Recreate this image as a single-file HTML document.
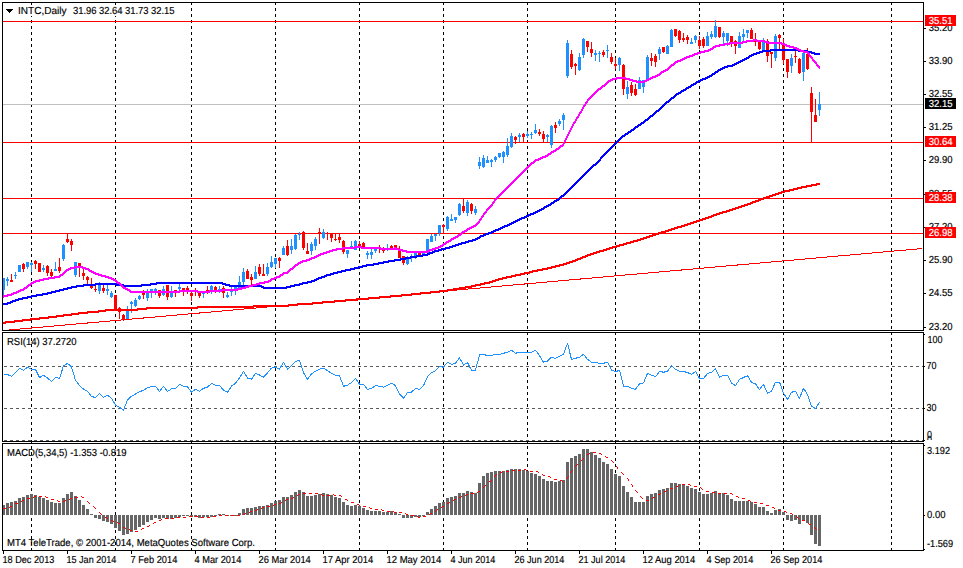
<!DOCTYPE html>
<html><head><meta charset="utf-8"><title>INTC Daily</title>
<style>html,body{margin:0;padding:0;background:#fff;overflow:hidden;}svg{display:block}</style></head>
<body><svg width="963" height="568" viewBox="0 0 963 568">
<rect width="963" height="568" fill="#fff"/>
<g shape-rendering="crispEdges">
<line x1="31.5" y1="2" x2="31.5" y2="551" stroke="#000" stroke-width="1" stroke-dasharray="3 3"/>
<line x1="115.5" y1="2" x2="115.5" y2="551" stroke="#000" stroke-width="1" stroke-dasharray="3 3"/>
<line x1="191.5" y1="2" x2="191.5" y2="551" stroke="#000" stroke-width="1" stroke-dasharray="3 3"/>
<line x1="275.5" y1="2" x2="275.5" y2="551" stroke="#000" stroke-width="1" stroke-dasharray="3 3"/>
<line x1="359.5" y1="2" x2="359.5" y2="551" stroke="#000" stroke-width="1" stroke-dasharray="3 3"/>
<line x1="443.5" y1="2" x2="443.5" y2="551" stroke="#000" stroke-width="1" stroke-dasharray="3 3"/>
<line x1="527.5" y1="2" x2="527.5" y2="551" stroke="#000" stroke-width="1" stroke-dasharray="3 3"/>
<line x1="615.5" y1="2" x2="615.5" y2="551" stroke="#000" stroke-width="1" stroke-dasharray="3 3"/>
<line x1="699.5" y1="2" x2="699.5" y2="551" stroke="#000" stroke-width="1" stroke-dasharray="3 3"/>
<line x1="783.5" y1="2" x2="783.5" y2="551" stroke="#000" stroke-width="1" stroke-dasharray="3 3"/>
<line x1="891.5" y1="2" x2="891.5" y2="551" stroke="#000" stroke-width="1" stroke-dasharray="3 3"/>
<rect x="0" y="331" width="963" height="1" fill="#fff"/>
<line x1="4" y1="366.5" x2="923" y2="366.5" stroke="#5a5a5a" stroke-width="1" stroke-dasharray="3 3"/>
<line x1="4" y1="408.5" x2="923" y2="408.5" stroke="#5a5a5a" stroke-width="1" stroke-dasharray="3 3"/>
<line x1="4" y1="440.5" x2="923" y2="440.5" stroke="#5a5a5a" stroke-width="1" stroke-dasharray="3 3"/>
<rect x="3" y="104" width="920" height="1" fill="#c0c0c0"/>
<rect x="3" y="21" width="920" height="1" fill="#ff0000"/>
<rect x="3" y="142" width="920" height="1" fill="#ff0000"/>
<rect x="3" y="198" width="920" height="1" fill="#ff0000"/>
<rect x="3" y="233" width="920" height="1" fill="#ff0000"/>
<g>
<rect x="3" y="278" width="1" height="17" fill="#1e90ff"/>
<rect x="3" y="278" width="2" height="12" fill="#1e90ff"/>
<rect x="7" y="277" width="1" height="9" fill="#1e90ff"/>
<rect x="6" y="279" width="3" height="2" fill="#1e90ff"/>
<rect x="11" y="274" width="1" height="8" fill="#ff0000"/>
<rect x="10" y="280" width="3" height="2" fill="#ff0000"/>
<rect x="15" y="272" width="1" height="7" fill="#1e90ff"/>
<rect x="14" y="275" width="3" height="1" fill="#1e90ff"/>
<rect x="19" y="265" width="1" height="7" fill="#1e90ff"/>
<rect x="18" y="265" width="3" height="7" fill="#1e90ff"/>
<rect x="23" y="263" width="1" height="9" fill="#ff0000"/>
<rect x="22" y="264" width="3" height="5" fill="#ff0000"/>
<rect x="27" y="262" width="1" height="7" fill="#1e90ff"/>
<rect x="26" y="262" width="3" height="5" fill="#1e90ff"/>
<rect x="31" y="262" width="1" height="10" fill="#1e90ff"/>
<rect x="30" y="263" width="3" height="2" fill="#1e90ff"/>
<rect x="35" y="260" width="1" height="9" fill="#ff0000"/>
<rect x="34" y="261" width="3" height="3" fill="#ff0000"/>
<rect x="39" y="263" width="1" height="9" fill="#ff0000"/>
<rect x="38" y="263" width="3" height="9" fill="#ff0000"/>
<rect x="43" y="265" width="1" height="7" fill="#1e90ff"/>
<rect x="42" y="268" width="3" height="2" fill="#1e90ff"/>
<rect x="47" y="265" width="1" height="11" fill="#ff0000"/>
<rect x="46" y="266" width="3" height="7" fill="#ff0000"/>
<rect x="51" y="269" width="1" height="8" fill="#ff0000"/>
<rect x="50" y="272" width="3" height="4" fill="#ff0000"/>
<rect x="55" y="262" width="1" height="9" fill="#1e90ff"/>
<rect x="54" y="269" width="3" height="2" fill="#1e90ff"/>
<rect x="59" y="258" width="1" height="15" fill="#ff0000"/>
<rect x="58" y="267" width="3" height="4" fill="#ff0000"/>
<rect x="63" y="244" width="1" height="17" fill="#1e90ff"/>
<rect x="62" y="245" width="3" height="14" fill="#1e90ff"/>
<rect x="67" y="234" width="1" height="9" fill="#ff0000"/>
<rect x="66" y="239" width="3" height="3" fill="#ff0000"/>
<rect x="71" y="239" width="1" height="12" fill="#ff0000"/>
<rect x="70" y="241" width="3" height="4" fill="#ff0000"/>
<rect x="75" y="262" width="1" height="15" fill="#1e90ff"/>
<rect x="74" y="262" width="3" height="13" fill="#1e90ff"/>
<rect x="79" y="263" width="1" height="14" fill="#ff0000"/>
<rect x="78" y="263" width="3" height="3" fill="#ff0000"/>
<rect x="83" y="269" width="1" height="11" fill="#ff0000"/>
<rect x="82" y="273" width="3" height="3" fill="#ff0000"/>
<rect x="87" y="276" width="1" height="9" fill="#ff0000"/>
<rect x="86" y="277" width="3" height="3" fill="#ff0000"/>
<rect x="91" y="278" width="1" height="11" fill="#ff0000"/>
<rect x="90" y="286" width="3" height="2" fill="#ff0000"/>
<rect x="95" y="283" width="1" height="9" fill="#ff0000"/>
<rect x="94" y="289" width="3" height="1" fill="#ff0000"/>
<rect x="99" y="282" width="1" height="12" fill="#1e90ff"/>
<rect x="98" y="283" width="3" height="8" fill="#1e90ff"/>
<rect x="103" y="285" width="1" height="8" fill="#ff0000"/>
<rect x="102" y="288" width="3" height="3" fill="#ff0000"/>
<rect x="107" y="285" width="1" height="10" fill="#1e90ff"/>
<rect x="106" y="289" width="3" height="2" fill="#1e90ff"/>
<rect x="111" y="291" width="1" height="7" fill="#1e90ff"/>
<rect x="110" y="293" width="3" height="4" fill="#1e90ff"/>
<rect x="115" y="295" width="1" height="16" fill="#ff0000"/>
<rect x="114" y="295" width="3" height="14" fill="#ff0000"/>
<rect x="119" y="307" width="1" height="12" fill="#ff0000"/>
<rect x="118" y="308" width="3" height="4" fill="#ff0000"/>
<rect x="123" y="314" width="1" height="7" fill="#ff0000"/>
<rect x="122" y="315" width="3" height="4" fill="#ff0000"/>
<rect x="127" y="306" width="1" height="13" fill="#1e90ff"/>
<rect x="126" y="309" width="3" height="10" fill="#1e90ff"/>
<rect x="131" y="301" width="1" height="12" fill="#1e90ff"/>
<rect x="130" y="302" width="3" height="2" fill="#1e90ff"/>
<rect x="135" y="298" width="1" height="9" fill="#1e90ff"/>
<rect x="134" y="300" width="3" height="6" fill="#1e90ff"/>
<rect x="139" y="295" width="1" height="5" fill="#1e90ff"/>
<rect x="138" y="296" width="3" height="3" fill="#1e90ff"/>
<rect x="143" y="290" width="1" height="9" fill="#ff0000"/>
<rect x="142" y="293" width="3" height="2" fill="#ff0000"/>
<rect x="147" y="289" width="1" height="12" fill="#1e90ff"/>
<rect x="146" y="291" width="3" height="7" fill="#1e90ff"/>
<rect x="151" y="289" width="1" height="9" fill="#1e90ff"/>
<rect x="150" y="289" width="3" height="4" fill="#1e90ff"/>
<rect x="155" y="288" width="1" height="7" fill="#1e90ff"/>
<rect x="154" y="289" width="3" height="2" fill="#1e90ff"/>
<rect x="159" y="290" width="1" height="8" fill="#ff0000"/>
<rect x="158" y="290" width="3" height="6" fill="#ff0000"/>
<rect x="163" y="286" width="1" height="10" fill="#1e90ff"/>
<rect x="162" y="289" width="3" height="6" fill="#1e90ff"/>
<rect x="167" y="285" width="1" height="15" fill="#ff0000"/>
<rect x="166" y="285" width="3" height="12" fill="#ff0000"/>
<rect x="171" y="286" width="1" height="12" fill="#1e90ff"/>
<rect x="170" y="292" width="3" height="5" fill="#1e90ff"/>
<rect x="175" y="290" width="1" height="7" fill="#ff0000"/>
<rect x="174" y="290" width="3" height="2" fill="#ff0000"/>
<rect x="179" y="284" width="1" height="7" fill="#1e90ff"/>
<rect x="178" y="287" width="3" height="2" fill="#1e90ff"/>
<rect x="183" y="288" width="1" height="8" fill="#ff0000"/>
<rect x="182" y="288" width="3" height="3" fill="#ff0000"/>
<rect x="187" y="286" width="1" height="8" fill="#ff0000"/>
<rect x="186" y="288" width="3" height="3" fill="#ff0000"/>
<rect x="191" y="291" width="1" height="10" fill="#ff0000"/>
<rect x="190" y="293" width="3" height="3" fill="#ff0000"/>
<rect x="195" y="288" width="1" height="8" fill="#ff0000"/>
<rect x="194" y="291" width="3" height="1" fill="#ff0000"/>
<rect x="199" y="291" width="1" height="7" fill="#ff0000"/>
<rect x="198" y="291" width="3" height="5" fill="#ff0000"/>
<rect x="203" y="292" width="1" height="6" fill="#1e90ff"/>
<rect x="202" y="293" width="3" height="1" fill="#1e90ff"/>
<rect x="207" y="286" width="1" height="8" fill="#ff0000"/>
<rect x="206" y="290" width="3" height="2" fill="#ff0000"/>
<rect x="211" y="285" width="1" height="9" fill="#1e90ff"/>
<rect x="210" y="286" width="3" height="6" fill="#1e90ff"/>
<rect x="215" y="286" width="1" height="7" fill="#ff0000"/>
<rect x="214" y="287" width="3" height="3" fill="#ff0000"/>
<rect x="219" y="286" width="1" height="7" fill="#1e90ff"/>
<rect x="218" y="289" width="3" height="1" fill="#1e90ff"/>
<rect x="223" y="286" width="1" height="12" fill="#ff0000"/>
<rect x="222" y="288" width="3" height="5" fill="#ff0000"/>
<rect x="227" y="292" width="1" height="6" fill="#1e90ff"/>
<rect x="226" y="295" width="3" height="2" fill="#1e90ff"/>
<rect x="231" y="287" width="1" height="9" fill="#1e90ff"/>
<rect x="230" y="291" width="3" height="1" fill="#1e90ff"/>
<rect x="235" y="287" width="1" height="8" fill="#1e90ff"/>
<rect x="234" y="287" width="3" height="3" fill="#1e90ff"/>
<rect x="239" y="276" width="1" height="13" fill="#1e90ff"/>
<rect x="238" y="282" width="3" height="7" fill="#1e90ff"/>
<rect x="243" y="268" width="1" height="18" fill="#1e90ff"/>
<rect x="242" y="272" width="3" height="10" fill="#1e90ff"/>
<rect x="247" y="269" width="1" height="10" fill="#ff0000"/>
<rect x="246" y="271" width="3" height="8" fill="#ff0000"/>
<rect x="251" y="274" width="1" height="11" fill="#ff0000"/>
<rect x="250" y="277" width="3" height="3" fill="#ff0000"/>
<rect x="255" y="266" width="1" height="13" fill="#1e90ff"/>
<rect x="254" y="272" width="3" height="7" fill="#1e90ff"/>
<rect x="259" y="264" width="1" height="12" fill="#ff0000"/>
<rect x="258" y="267" width="3" height="7" fill="#ff0000"/>
<rect x="263" y="264" width="1" height="12" fill="#ff0000"/>
<rect x="262" y="274" width="3" height="2" fill="#ff0000"/>
<rect x="267" y="263" width="1" height="13" fill="#1e90ff"/>
<rect x="266" y="267" width="3" height="7" fill="#1e90ff"/>
<rect x="271" y="256" width="1" height="12" fill="#1e90ff"/>
<rect x="270" y="262" width="3" height="5" fill="#1e90ff"/>
<rect x="275" y="258" width="1" height="10" fill="#1e90ff"/>
<rect x="274" y="258" width="3" height="6" fill="#1e90ff"/>
<rect x="279" y="257" width="1" height="11" fill="#ff0000"/>
<rect x="278" y="258" width="3" height="3" fill="#ff0000"/>
<rect x="283" y="246" width="1" height="9" fill="#1e90ff"/>
<rect x="282" y="248" width="3" height="7" fill="#1e90ff"/>
<rect x="287" y="240" width="1" height="16" fill="#ff0000"/>
<rect x="286" y="246" width="3" height="9" fill="#ff0000"/>
<rect x="291" y="239" width="1" height="15" fill="#1e90ff"/>
<rect x="290" y="246" width="3" height="4" fill="#1e90ff"/>
<rect x="295" y="234" width="1" height="16" fill="#1e90ff"/>
<rect x="294" y="235" width="3" height="14" fill="#1e90ff"/>
<rect x="299" y="232" width="1" height="8" fill="#1e90ff"/>
<rect x="298" y="234" width="3" height="1" fill="#1e90ff"/>
<rect x="303" y="231" width="1" height="19" fill="#ff0000"/>
<rect x="302" y="232" width="3" height="16" fill="#ff0000"/>
<rect x="307" y="243" width="1" height="11" fill="#ff0000"/>
<rect x="306" y="251" width="3" height="3" fill="#ff0000"/>
<rect x="311" y="242" width="1" height="13" fill="#1e90ff"/>
<rect x="310" y="244" width="3" height="7" fill="#1e90ff"/>
<rect x="315" y="237" width="1" height="13" fill="#1e90ff"/>
<rect x="314" y="239" width="3" height="7" fill="#1e90ff"/>
<rect x="319" y="228" width="1" height="16" fill="#ff0000"/>
<rect x="318" y="232" width="3" height="2" fill="#ff0000"/>
<rect x="323" y="229" width="1" height="10" fill="#1e90ff"/>
<rect x="322" y="232" width="3" height="6" fill="#1e90ff"/>
<rect x="327" y="232" width="1" height="8" fill="#ff0000"/>
<rect x="326" y="233" width="3" height="1" fill="#ff0000"/>
<rect x="331" y="233" width="1" height="9" fill="#ff0000"/>
<rect x="330" y="234" width="3" height="4" fill="#ff0000"/>
<rect x="335" y="233" width="1" height="8" fill="#ff0000"/>
<rect x="334" y="239" width="3" height="1" fill="#ff0000"/>
<rect x="339" y="234" width="1" height="9" fill="#ff0000"/>
<rect x="338" y="237" width="3" height="3" fill="#ff0000"/>
<rect x="343" y="240" width="1" height="14" fill="#ff0000"/>
<rect x="342" y="241" width="3" height="11" fill="#ff0000"/>
<rect x="347" y="250" width="1" height="8" fill="#1e90ff"/>
<rect x="346" y="250" width="3" height="4" fill="#1e90ff"/>
<rect x="351" y="241" width="1" height="8" fill="#1e90ff"/>
<rect x="350" y="246" width="3" height="3" fill="#1e90ff"/>
<rect x="355" y="240" width="1" height="10" fill="#1e90ff"/>
<rect x="354" y="241" width="3" height="9" fill="#1e90ff"/>
<rect x="359" y="241" width="1" height="7" fill="#ff0000"/>
<rect x="358" y="244" width="3" height="3" fill="#ff0000"/>
<rect x="363" y="242" width="1" height="7" fill="#ff0000"/>
<rect x="362" y="243" width="3" height="4" fill="#ff0000"/>
<rect x="367" y="251" width="1" height="8" fill="#1e90ff"/>
<rect x="366" y="253" width="3" height="2" fill="#1e90ff"/>
<rect x="371" y="249" width="1" height="10" fill="#1e90ff"/>
<rect x="370" y="252" width="3" height="3" fill="#1e90ff"/>
<rect x="375" y="248" width="1" height="5" fill="#1e90ff"/>
<rect x="374" y="249" width="3" height="2" fill="#1e90ff"/>
<rect x="379" y="245" width="1" height="8" fill="#ff0000"/>
<rect x="378" y="248" width="3" height="1" fill="#ff0000"/>
<rect x="383" y="247" width="1" height="6" fill="#ff0000"/>
<rect x="382" y="249" width="3" height="2" fill="#ff0000"/>
<rect x="387" y="244" width="1" height="7" fill="#1e90ff"/>
<rect x="386" y="248" width="3" height="1" fill="#1e90ff"/>
<rect x="391" y="245" width="1" height="4" fill="#ff0000"/>
<rect x="390" y="246" width="3" height="2" fill="#ff0000"/>
<rect x="395" y="245" width="1" height="5" fill="#ff0000"/>
<rect x="394" y="245" width="3" height="4" fill="#ff0000"/>
<rect x="399" y="246" width="1" height="12" fill="#ff0000"/>
<rect x="398" y="250" width="3" height="8" fill="#ff0000"/>
<rect x="403" y="256" width="1" height="9" fill="#ff0000"/>
<rect x="402" y="256" width="3" height="7" fill="#ff0000"/>
<rect x="407" y="256" width="1" height="9" fill="#1e90ff"/>
<rect x="406" y="258" width="3" height="6" fill="#1e90ff"/>
<rect x="411" y="254" width="1" height="8" fill="#1e90ff"/>
<rect x="410" y="257" width="3" height="1" fill="#1e90ff"/>
<rect x="415" y="253" width="1" height="6" fill="#1e90ff"/>
<rect x="414" y="253" width="3" height="3" fill="#1e90ff"/>
<rect x="419" y="252" width="1" height="3" fill="#ff0000"/>
<rect x="418" y="253" width="3" height="2" fill="#ff0000"/>
<rect x="423" y="252" width="1" height="2" fill="#1e90ff"/>
<rect x="422" y="253" width="3" height="1" fill="#1e90ff"/>
<rect x="427" y="239" width="1" height="14" fill="#1e90ff"/>
<rect x="426" y="239" width="3" height="14" fill="#1e90ff"/>
<rect x="431" y="234" width="1" height="8" fill="#1e90ff"/>
<rect x="430" y="236" width="3" height="6" fill="#1e90ff"/>
<rect x="435" y="234" width="1" height="7" fill="#1e90ff"/>
<rect x="434" y="234" width="3" height="2" fill="#1e90ff"/>
<rect x="439" y="225" width="1" height="11" fill="#1e90ff"/>
<rect x="438" y="225" width="3" height="8" fill="#1e90ff"/>
<rect x="443" y="224" width="1" height="9" fill="#ff0000"/>
<rect x="442" y="225" width="3" height="2" fill="#ff0000"/>
<rect x="447" y="216" width="1" height="15" fill="#1e90ff"/>
<rect x="446" y="217" width="3" height="12" fill="#1e90ff"/>
<rect x="451" y="214" width="1" height="7" fill="#1e90ff"/>
<rect x="450" y="219" width="3" height="2" fill="#1e90ff"/>
<rect x="455" y="217" width="1" height="6" fill="#1e90ff"/>
<rect x="454" y="217" width="3" height="3" fill="#1e90ff"/>
<rect x="459" y="203" width="1" height="13" fill="#1e90ff"/>
<rect x="458" y="204" width="3" height="11" fill="#1e90ff"/>
<rect x="463" y="198" width="1" height="15" fill="#ff0000"/>
<rect x="462" y="206" width="3" height="5" fill="#ff0000"/>
<rect x="467" y="200" width="1" height="16" fill="#1e90ff"/>
<rect x="466" y="202" width="3" height="11" fill="#1e90ff"/>
<rect x="471" y="203" width="1" height="11" fill="#ff0000"/>
<rect x="470" y="204" width="3" height="7" fill="#ff0000"/>
<rect x="475" y="206" width="1" height="9" fill="#1e90ff"/>
<rect x="474" y="209" width="3" height="4" fill="#1e90ff"/>
<rect x="479" y="157" width="1" height="12" fill="#1e90ff"/>
<rect x="478" y="162" width="3" height="4" fill="#1e90ff"/>
<rect x="483" y="155" width="1" height="13" fill="#1e90ff"/>
<rect x="482" y="158" width="3" height="9" fill="#1e90ff"/>
<rect x="487" y="156" width="1" height="7" fill="#1e90ff"/>
<rect x="486" y="160" width="3" height="3" fill="#1e90ff"/>
<rect x="491" y="159" width="1" height="8" fill="#1e90ff"/>
<rect x="490" y="160" width="3" height="2" fill="#1e90ff"/>
<rect x="495" y="156" width="1" height="6" fill="#1e90ff"/>
<rect x="494" y="157" width="3" height="3" fill="#1e90ff"/>
<rect x="499" y="153" width="1" height="5" fill="#1e90ff"/>
<rect x="498" y="153" width="3" height="4" fill="#1e90ff"/>
<rect x="503" y="151" width="1" height="12" fill="#1e90ff"/>
<rect x="502" y="152" width="3" height="5" fill="#1e90ff"/>
<rect x="507" y="138" width="1" height="19" fill="#1e90ff"/>
<rect x="506" y="146" width="3" height="9" fill="#1e90ff"/>
<rect x="511" y="133" width="1" height="15" fill="#1e90ff"/>
<rect x="510" y="136" width="3" height="11" fill="#1e90ff"/>
<rect x="515" y="136" width="1" height="8" fill="#ff0000"/>
<rect x="514" y="137" width="3" height="3" fill="#ff0000"/>
<rect x="519" y="133" width="1" height="9" fill="#1e90ff"/>
<rect x="518" y="135" width="3" height="2" fill="#1e90ff"/>
<rect x="523" y="133" width="1" height="9" fill="#ff0000"/>
<rect x="522" y="134" width="3" height="3" fill="#ff0000"/>
<rect x="527" y="131" width="1" height="7" fill="#1e90ff"/>
<rect x="526" y="134" width="3" height="2" fill="#1e90ff"/>
<rect x="531" y="132" width="1" height="7" fill="#1e90ff"/>
<rect x="530" y="134" width="3" height="1" fill="#1e90ff"/>
<rect x="535" y="124" width="1" height="10" fill="#1e90ff"/>
<rect x="534" y="130" width="3" height="3" fill="#1e90ff"/>
<rect x="539" y="129" width="1" height="7" fill="#ff0000"/>
<rect x="538" y="132" width="3" height="2" fill="#ff0000"/>
<rect x="543" y="131" width="1" height="11" fill="#ff0000"/>
<rect x="542" y="134" width="3" height="5" fill="#ff0000"/>
<rect x="547" y="134" width="1" height="8" fill="#1e90ff"/>
<rect x="546" y="135" width="3" height="2" fill="#1e90ff"/>
<rect x="551" y="125" width="1" height="23" fill="#1e90ff"/>
<rect x="550" y="126" width="3" height="19" fill="#1e90ff"/>
<rect x="555" y="122" width="1" height="11" fill="#ff0000"/>
<rect x="554" y="125" width="3" height="3" fill="#ff0000"/>
<rect x="559" y="119" width="1" height="7" fill="#1e90ff"/>
<rect x="558" y="121" width="3" height="3" fill="#1e90ff"/>
<rect x="563" y="113" width="1" height="17" fill="#1e90ff"/>
<rect x="562" y="115" width="3" height="5" fill="#1e90ff"/>
<rect x="567" y="40" width="1" height="38" fill="#1e90ff"/>
<rect x="566" y="43" width="3" height="33" fill="#1e90ff"/>
<rect x="571" y="50" width="1" height="19" fill="#ff0000"/>
<rect x="570" y="54" width="3" height="13" fill="#ff0000"/>
<rect x="575" y="63" width="1" height="12" fill="#ff0000"/>
<rect x="574" y="64" width="3" height="2" fill="#ff0000"/>
<rect x="579" y="53" width="1" height="18" fill="#1e90ff"/>
<rect x="578" y="57" width="3" height="13" fill="#1e90ff"/>
<rect x="583" y="38" width="1" height="20" fill="#1e90ff"/>
<rect x="582" y="39" width="3" height="16" fill="#1e90ff"/>
<rect x="587" y="41" width="1" height="11" fill="#ff0000"/>
<rect x="586" y="41" width="3" height="6" fill="#ff0000"/>
<rect x="591" y="42" width="1" height="15" fill="#ff0000"/>
<rect x="590" y="49" width="3" height="4" fill="#ff0000"/>
<rect x="595" y="50" width="1" height="11" fill="#1e90ff"/>
<rect x="594" y="53" width="3" height="2" fill="#1e90ff"/>
<rect x="599" y="51" width="1" height="11" fill="#1e90ff"/>
<rect x="598" y="53" width="3" height="1" fill="#1e90ff"/>
<rect x="603" y="50" width="1" height="7" fill="#ff0000"/>
<rect x="602" y="52" width="3" height="3" fill="#ff0000"/>
<rect x="607" y="45" width="1" height="13" fill="#1e90ff"/>
<rect x="606" y="50" width="3" height="1" fill="#1e90ff"/>
<rect x="611" y="53" width="1" height="11" fill="#ff0000"/>
<rect x="610" y="57" width="3" height="5" fill="#ff0000"/>
<rect x="615" y="58" width="1" height="11" fill="#ff0000"/>
<rect x="614" y="64" width="3" height="2" fill="#ff0000"/>
<rect x="619" y="57" width="1" height="14" fill="#1e90ff"/>
<rect x="618" y="58" width="3" height="7" fill="#1e90ff"/>
<rect x="623" y="64" width="1" height="31" fill="#ff0000"/>
<rect x="622" y="65" width="3" height="24" fill="#ff0000"/>
<rect x="627" y="81" width="1" height="18" fill="#1e90ff"/>
<rect x="626" y="87" width="3" height="7" fill="#1e90ff"/>
<rect x="631" y="82" width="1" height="14" fill="#ff0000"/>
<rect x="630" y="85" width="3" height="8" fill="#ff0000"/>
<rect x="635" y="84" width="1" height="12" fill="#ff0000"/>
<rect x="634" y="89" width="3" height="6" fill="#ff0000"/>
<rect x="639" y="77" width="1" height="12" fill="#1e90ff"/>
<rect x="638" y="80" width="3" height="9" fill="#1e90ff"/>
<rect x="643" y="80" width="1" height="13" fill="#1e90ff"/>
<rect x="642" y="80" width="3" height="7" fill="#1e90ff"/>
<rect x="647" y="55" width="1" height="24" fill="#1e90ff"/>
<rect x="646" y="57" width="3" height="22" fill="#1e90ff"/>
<rect x="651" y="53" width="1" height="13" fill="#ff0000"/>
<rect x="650" y="58" width="3" height="3" fill="#ff0000"/>
<rect x="655" y="54" width="1" height="13" fill="#ff0000"/>
<rect x="654" y="56" width="3" height="6" fill="#ff0000"/>
<rect x="659" y="47" width="1" height="13" fill="#1e90ff"/>
<rect x="658" y="49" width="3" height="5" fill="#1e90ff"/>
<rect x="663" y="47" width="1" height="6" fill="#ff0000"/>
<rect x="662" y="47" width="3" height="5" fill="#ff0000"/>
<rect x="667" y="45" width="1" height="9" fill="#1e90ff"/>
<rect x="666" y="46" width="3" height="8" fill="#1e90ff"/>
<rect x="671" y="29" width="1" height="18" fill="#1e90ff"/>
<rect x="670" y="30" width="3" height="17" fill="#1e90ff"/>
<rect x="675" y="29" width="1" height="8" fill="#ff0000"/>
<rect x="674" y="29" width="3" height="7" fill="#ff0000"/>
<rect x="679" y="30" width="1" height="13" fill="#ff0000"/>
<rect x="678" y="31" width="3" height="9" fill="#ff0000"/>
<rect x="683" y="33" width="1" height="9" fill="#ff0000"/>
<rect x="682" y="38" width="3" height="2" fill="#ff0000"/>
<rect x="687" y="35" width="1" height="9" fill="#ff0000"/>
<rect x="686" y="37" width="3" height="3" fill="#ff0000"/>
<rect x="691" y="38" width="1" height="6" fill="#1e90ff"/>
<rect x="690" y="42" width="3" height="2" fill="#1e90ff"/>
<rect x="695" y="35" width="1" height="8" fill="#1e90ff"/>
<rect x="694" y="36" width="3" height="4" fill="#1e90ff"/>
<rect x="699" y="36" width="1" height="13" fill="#ff0000"/>
<rect x="698" y="40" width="3" height="6" fill="#ff0000"/>
<rect x="703" y="37" width="1" height="11" fill="#ff0000"/>
<rect x="702" y="39" width="3" height="7" fill="#ff0000"/>
<rect x="707" y="32" width="1" height="14" fill="#1e90ff"/>
<rect x="706" y="36" width="3" height="10" fill="#1e90ff"/>
<rect x="711" y="31" width="1" height="8" fill="#1e90ff"/>
<rect x="710" y="34" width="3" height="3" fill="#1e90ff"/>
<rect x="715" y="20" width="1" height="18" fill="#1e90ff"/>
<rect x="714" y="26" width="3" height="11" fill="#1e90ff"/>
<rect x="719" y="27" width="1" height="11" fill="#ff0000"/>
<rect x="718" y="27" width="3" height="10" fill="#ff0000"/>
<rect x="723" y="31" width="1" height="13" fill="#1e90ff"/>
<rect x="722" y="33" width="3" height="4" fill="#1e90ff"/>
<rect x="727" y="33" width="1" height="13" fill="#1e90ff"/>
<rect x="726" y="33" width="3" height="8" fill="#1e90ff"/>
<rect x="731" y="36" width="1" height="11" fill="#ff0000"/>
<rect x="730" y="36" width="3" height="8" fill="#ff0000"/>
<rect x="735" y="40" width="1" height="14" fill="#ff0000"/>
<rect x="734" y="41" width="3" height="5" fill="#ff0000"/>
<rect x="739" y="32" width="1" height="16" fill="#1e90ff"/>
<rect x="738" y="36" width="3" height="12" fill="#1e90ff"/>
<rect x="743" y="29" width="1" height="12" fill="#1e90ff"/>
<rect x="742" y="34" width="3" height="3" fill="#1e90ff"/>
<rect x="747" y="30" width="1" height="8" fill="#1e90ff"/>
<rect x="746" y="30" width="3" height="3" fill="#1e90ff"/>
<rect x="751" y="28" width="1" height="11" fill="#ff0000"/>
<rect x="750" y="30" width="3" height="9" fill="#ff0000"/>
<rect x="755" y="33" width="1" height="13" fill="#ff0000"/>
<rect x="754" y="39" width="3" height="3" fill="#ff0000"/>
<rect x="759" y="42" width="1" height="8" fill="#ff0000"/>
<rect x="758" y="42" width="3" height="7" fill="#ff0000"/>
<rect x="763" y="38" width="1" height="13" fill="#1e90ff"/>
<rect x="762" y="40" width="3" height="11" fill="#1e90ff"/>
<rect x="767" y="39" width="1" height="23" fill="#ff0000"/>
<rect x="766" y="41" width="3" height="15" fill="#ff0000"/>
<rect x="771" y="52" width="1" height="16" fill="#ff0000"/>
<rect x="770" y="52" width="3" height="2" fill="#ff0000"/>
<rect x="775" y="34" width="1" height="27" fill="#1e90ff"/>
<rect x="774" y="36" width="3" height="22" fill="#1e90ff"/>
<rect x="779" y="34" width="1" height="15" fill="#ff0000"/>
<rect x="778" y="35" width="3" height="3" fill="#ff0000"/>
<rect x="783" y="39" width="1" height="25" fill="#ff0000"/>
<rect x="782" y="45" width="3" height="15" fill="#ff0000"/>
<rect x="787" y="59" width="1" height="19" fill="#ff0000"/>
<rect x="786" y="59" width="3" height="13" fill="#ff0000"/>
<rect x="791" y="54" width="1" height="19" fill="#1e90ff"/>
<rect x="790" y="58" width="3" height="8" fill="#1e90ff"/>
<rect x="795" y="51" width="1" height="12" fill="#ff0000"/>
<rect x="794" y="56" width="3" height="1" fill="#ff0000"/>
<rect x="799" y="58" width="1" height="16" fill="#ff0000"/>
<rect x="798" y="59" width="3" height="14" fill="#ff0000"/>
<rect x="803" y="53" width="1" height="28" fill="#1e90ff"/>
<rect x="802" y="53" width="3" height="19" fill="#1e90ff"/>
<rect x="807" y="48" width="1" height="22" fill="#ff0000"/>
<rect x="806" y="54" width="3" height="15" fill="#ff0000"/>
<rect x="811" y="87" width="1" height="55" fill="#ff0000"/>
<rect x="810" y="93" width="3" height="19" fill="#ff0000"/>
<rect x="815" y="99" width="1" height="23" fill="#ff0000"/>
<rect x="814" y="115" width="3" height="7" fill="#ff0000"/>
<rect x="819" y="92" width="1" height="24" fill="#1e90ff"/>
<rect x="818" y="104" width="3" height="6" fill="#1e90ff"/>
</g>
<clipPath id="cm"><rect x="3" y="3" width="920" height="327"/></clipPath>
<line x1="3.5" y1="330.5" x2="922.5" y2="248.5" stroke="#ff0000" stroke-width="1" clip-path="url(#cm)"/>
<path d="M3.5,322V324M4.5,322V324M5.5,321V324M6.5,321V323M7.5,321V323M8.5,321V323M9.5,321V323M10.5,321V323M11.5,321V323M12.5,321V323M13.5,321V323M14.5,320V323M15.5,320V322M16.5,320V322M17.5,320V322M18.5,320V322M19.5,320V322M20.5,320V322M21.5,320V322M22.5,319V322M23.5,319V321M24.5,319V321M25.5,319V321M26.5,319V321M27.5,319V321M28.5,319V321M29.5,319V321M30.5,318V321M31.5,318V320M32.5,318V320M33.5,318V320M34.5,318V320M35.5,318V320M36.5,318V320M37.5,318V320M38.5,318V320M39.5,317V320M40.5,317V319M41.5,317V319M42.5,317V319M43.5,317V319M44.5,317V319M45.5,317V319M46.5,317V319M47.5,317V319M48.5,316V319M49.5,316V318M50.5,316V318M51.5,316V318M52.5,316V318M53.5,316V318M54.5,316V318M55.5,316V318M56.5,315V318M57.5,315V317M58.5,315V317M59.5,315V317M60.5,315V317M61.5,315V317M62.5,315V317M63.5,314V317M64.5,314V316M65.5,314V316M66.5,314V316M67.5,314V316M68.5,314V316M69.5,314V316M70.5,314V316M71.5,313V316M72.5,313V315M73.5,313V315M74.5,313V315M75.5,313V315M76.5,313V315M77.5,313V315M78.5,312V315M79.5,312V314M80.5,312V314M81.5,312V314M82.5,312V314M83.5,312V314M84.5,312V314M85.5,312V314M86.5,312V314M87.5,311V314M88.5,311V313M89.5,311V313M90.5,311V313M91.5,311V313M92.5,311V313M93.5,311V313M94.5,311V313M95.5,311V313M96.5,311V313M97.5,311V313M98.5,310V313M99.5,310V312M100.5,310V312M101.5,310V312M102.5,310V312M103.5,310V312M104.5,310V312M105.5,309V312M106.5,309V311M107.5,309V311M108.5,309V311M109.5,309V311M110.5,309V311M111.5,309V311M112.5,309V311M113.5,309V311M114.5,309V311M115.5,309V311M116.5,309V311M117.5,309V311M118.5,309V311M119.5,309V311M120.5,309V311M121.5,309V311M122.5,309V311M123.5,309V311M124.5,309V311M125.5,309V311M126.5,309V311M127.5,309V311M128.5,309V311M129.5,309V311M130.5,309V311M131.5,309V311M132.5,309V311M133.5,309V311M134.5,309V311M135.5,309V311M136.5,309V311M137.5,308V311M138.5,308V310M139.5,308V310M140.5,308V310M141.5,308V310M142.5,308V310M143.5,308V310M144.5,308V310M145.5,308V310M146.5,307V310M147.5,307V309M148.5,307V309M149.5,307V309M150.5,307V309M151.5,307V309M152.5,307V309M153.5,307V309M154.5,307V309M155.5,307V309M156.5,307V309M157.5,307V309M158.5,307V309M159.5,307V309M160.5,307V309M161.5,307V309M162.5,307V309M163.5,307V309M164.5,307V309M165.5,307V309M166.5,307V309M167.5,307V309M168.5,307V309M169.5,307V309M170.5,307V309M171.5,307V309M172.5,307V309M173.5,307V309M174.5,307V309M175.5,307V309M176.5,307V309M177.5,307V309M178.5,307V309M179.5,307V309M180.5,307V309M181.5,307V309M182.5,307V309M183.5,307V309M184.5,307V309M185.5,307V309M186.5,307V309M187.5,307V309M188.5,307V309M189.5,307V309M190.5,307V309M191.5,307V309M192.5,307V309M193.5,307V309M194.5,307V309M195.5,307V309M196.5,307V309M197.5,306V309M198.5,306V308M199.5,306V308M200.5,306V308M201.5,306V308M202.5,306V308M203.5,306V308M204.5,306V308M205.5,306V308M206.5,306V308M207.5,306V308M208.5,306V308M209.5,306V308M210.5,306V308M211.5,306V308M212.5,306V308M213.5,306V308M214.5,306V308M215.5,306V308M216.5,306V308M217.5,306V308M218.5,306V308M219.5,306V308M220.5,306V308M221.5,306V308M222.5,306V308M223.5,306V308M224.5,306V308M225.5,306V308M226.5,306V308M227.5,306V308M228.5,306V308M229.5,306V308M230.5,306V308M231.5,306V308M232.5,306V308M233.5,306V308M234.5,306V308M235.5,306V308M236.5,306V308M237.5,306V308M238.5,306V308M239.5,306V308M240.5,306V308M241.5,306V308M242.5,306V308M243.5,306V308M244.5,306V308M245.5,306V308M246.5,306V308M247.5,306V308M248.5,306V308M249.5,306V308M250.5,306V308M251.5,306V308M252.5,306V308M253.5,305V308M254.5,305V307M255.5,305V307M256.5,305V307M257.5,305V307M258.5,305V307M259.5,305V307M260.5,305V307M261.5,305V307M262.5,305V307M263.5,305V307M264.5,305V307M265.5,305V307M266.5,305V307M267.5,305V307M268.5,305V307M269.5,305V307M270.5,305V307M271.5,305V307M272.5,305V307M273.5,305V307M274.5,305V307M275.5,305V307M276.5,305V307M277.5,305V307M278.5,305V307M279.5,305V307M280.5,305V307M281.5,305V307M282.5,305V307M283.5,305V307M284.5,305V307M285.5,305V307M286.5,305V307M287.5,305V307M288.5,304V307M289.5,304V306M290.5,304V306M291.5,304V306M292.5,304V306M293.5,304V306M294.5,304V306M295.5,304V306M296.5,304V306M297.5,303V306M298.5,303V305M299.5,303V305M300.5,303V305M301.5,303V305M302.5,303V305M303.5,303V305M304.5,303V305M305.5,303V305M306.5,303V305M307.5,303V305M308.5,303V305M309.5,303V305M310.5,303V305M311.5,303V305M312.5,302V305M313.5,302V304M314.5,302V304M315.5,302V304M316.5,302V304M317.5,302V304M318.5,302V304M319.5,302V304M320.5,302V304M321.5,302V304M322.5,301V304M323.5,301V303M324.5,301V303M325.5,301V303M326.5,301V303M327.5,301V303M328.5,301V303M329.5,301V303M330.5,301V303M331.5,301V303M332.5,301V303M333.5,301V303M334.5,300V303M335.5,300V302M336.5,300V302M337.5,300V302M338.5,300V302M339.5,300V302M340.5,300V302M341.5,300V302M342.5,300V302M343.5,300V302M344.5,300V302M345.5,299V302M346.5,299V301M347.5,299V301M348.5,299V301M349.5,299V301M350.5,299V301M351.5,299V301M352.5,299V301M353.5,299V301M354.5,299V301M355.5,299V301M356.5,299V301M357.5,298V301M358.5,298V300M359.5,298V300M360.5,298V300M361.5,298V300M362.5,298V300M363.5,298V300M364.5,298V300M365.5,298V300M366.5,298V300M367.5,298V300M368.5,297V300M369.5,297V299M370.5,297V299M371.5,297V299M372.5,297V299M373.5,297V299M374.5,297V299M375.5,297V299M376.5,297V299M377.5,297V299M378.5,297V299M379.5,296V299M380.5,296V298M381.5,296V298M382.5,296V298M383.5,296V298M384.5,296V298M385.5,296V298M386.5,296V298M387.5,296V298M388.5,296V298M389.5,296V298M390.5,295V298M391.5,295V297M392.5,295V297M393.5,295V297M394.5,295V297M395.5,295V297M396.5,295V297M397.5,295V297M398.5,295V297M399.5,295V297M400.5,295V297M401.5,294V297M402.5,294V296M403.5,294V296M404.5,294V296M405.5,294V296M406.5,294V296M407.5,294V296M408.5,294V296M409.5,294V296M410.5,294V296M411.5,293V296M412.5,293V295M413.5,293V295M414.5,293V295M415.5,293V295M416.5,293V295M417.5,293V295M418.5,293V295M419.5,293V295M420.5,292V295M421.5,292V294M422.5,292V294M423.5,292V294M424.5,292V294M425.5,292V294M426.5,292V294M427.5,292V294M428.5,292V294M429.5,292V294M430.5,291V294M431.5,291V293M432.5,291V293M433.5,291V293M434.5,291V293M435.5,291V293M436.5,291V293M437.5,291V293M438.5,291V293M439.5,290V293M440.5,290V292M441.5,290V292M442.5,290V292M443.5,290V292M444.5,290V292M445.5,290V292M446.5,290V292M447.5,289V292M448.5,289V291M449.5,289V291M450.5,289V291M451.5,289V291M452.5,289V291M453.5,288V291M454.5,288V290M455.5,288V290M456.5,288V290M457.5,288V290M458.5,288V290M459.5,287V290M460.5,287V289M461.5,287V289M462.5,287V289M463.5,287V289M464.5,287V289M465.5,286V289M466.5,286V288M467.5,286V288M468.5,286V288M469.5,286V288M470.5,286V288M471.5,285V288M472.5,285V287M473.5,285V287M474.5,285V287M475.5,284V287M476.5,284V286M477.5,284V286M478.5,284V286M479.5,284V286M480.5,283V286M481.5,283V285M482.5,283V285M483.5,283V285M484.5,282V285M485.5,282V284M486.5,282V284M487.5,282V284M488.5,282V284M489.5,281V284M490.5,281V283M491.5,281V283M492.5,280V283M493.5,280V282M494.5,280V282M495.5,279V282M496.5,279V281M497.5,279V281M498.5,278V281M499.5,278V280M500.5,278V280M501.5,278V280M502.5,277V280M503.5,277V279M504.5,277V279M505.5,277V279M506.5,276V279M507.5,276V278M508.5,276V278M509.5,276V278M510.5,276V278M511.5,275V278M512.5,275V277M513.5,275V277M514.5,275V277M515.5,274V277M516.5,274V276M517.5,274V276M518.5,274V276M519.5,274V276M520.5,273V276M521.5,273V275M522.5,273V275M523.5,273V275M524.5,272V275M525.5,272V274M526.5,272V274M527.5,272V274M528.5,272V274M529.5,271V274M530.5,271V273M531.5,271V273M532.5,270V273M533.5,270V272M534.5,270V272M535.5,270V272M536.5,270V272M537.5,269V272M538.5,269V271M539.5,269V271M540.5,269V271M541.5,269V271M542.5,268V271M543.5,268V270M544.5,268V270M545.5,268V270M546.5,268V270M547.5,267V270M548.5,267V269M549.5,267V269M550.5,267V269M551.5,266V269M552.5,266V268M553.5,266V268M554.5,266V268M555.5,265V268M556.5,265V267M557.5,265V267M558.5,265V267M559.5,264V267M560.5,264V266M561.5,264V266M562.5,264V266M563.5,263V266M564.5,263V265M565.5,263V265M566.5,262V265M567.5,262V264M568.5,262V264M569.5,261V264M570.5,261V263M571.5,261V263M572.5,260V263M573.5,260V262M574.5,260V262M575.5,259V262M576.5,259V261M577.5,258V261M578.5,258V260M579.5,258V260M580.5,257V260M581.5,257V259M582.5,256V259M583.5,256V258M584.5,256V258M585.5,255V258M586.5,255V257M587.5,254V257M588.5,254V256M589.5,254V256M590.5,253V256M591.5,253V255M592.5,253V255M593.5,252V255M594.5,252V254M595.5,252V254M596.5,251V254M597.5,251V253M598.5,251V253M599.5,250V253M600.5,250V252M601.5,250V252M602.5,250V252M603.5,249V252M604.5,249V251M605.5,249V251M606.5,248V251M607.5,248V250M608.5,248V250M609.5,247V250M610.5,247V249M611.5,247V249M612.5,246V249M613.5,246V248M614.5,246V248M615.5,246V248M616.5,245V248M617.5,245V247M618.5,245V247M619.5,244V247M620.5,244V246M621.5,244V246M622.5,244V246M623.5,243V246M624.5,243V245M625.5,243V245M626.5,242V245M627.5,242V244M628.5,242V244M629.5,242V244M630.5,241V244M631.5,241V243M632.5,241V243M633.5,240V243M634.5,240V242M635.5,240V242M636.5,240V242M637.5,239V242M638.5,239V241M639.5,239V241M640.5,238V241M641.5,238V240M642.5,238V240M643.5,237V240M644.5,237V239M645.5,237V239M646.5,236V239M647.5,236V238M648.5,236V238M649.5,235V238M650.5,235V237M651.5,235V237M652.5,234V237M653.5,234V236M654.5,234V236M655.5,233V236M656.5,233V235M657.5,233V235M658.5,232V235M659.5,232V234M660.5,232V234M661.5,231V234M662.5,231V233M663.5,231V233M664.5,231V233M665.5,230V233M666.5,230V232M667.5,230V232M668.5,229V232M669.5,229V231M670.5,229V231M671.5,228V231M672.5,228V230M673.5,228V230M674.5,227V230M675.5,227V229M676.5,227V229M677.5,226V229M678.5,226V228M679.5,226V228M680.5,226V228M681.5,225V228M682.5,225V227M683.5,225V227M684.5,224V227M685.5,224V226M686.5,224V226M687.5,223V226M688.5,223V225M689.5,223V225M690.5,222V225M691.5,222V224M692.5,222V224M693.5,221V224M694.5,221V223M695.5,221V223M696.5,220V223M697.5,220V222M698.5,220V222M699.5,219V222M700.5,219V221M701.5,219V221M702.5,218V221M703.5,218V220M704.5,218V220M705.5,217V220M706.5,217V219M707.5,217V219M708.5,216V219M709.5,216V218M710.5,216V218M711.5,215V218M712.5,215V217M713.5,214V217M714.5,214V216M715.5,214V216M716.5,213V216M717.5,213V215M718.5,213V215M719.5,212V215M720.5,212V214M721.5,212V214M722.5,211V214M723.5,211V213M724.5,211V213M725.5,211V213M726.5,210V213M727.5,210V212M728.5,210V212M729.5,209V212M730.5,209V211M731.5,209V211M732.5,208V211M733.5,208V210M734.5,208V210M735.5,207V210M736.5,207V209M737.5,207V209M738.5,206V209M739.5,206V208M740.5,206V208M741.5,205V208M742.5,205V207M743.5,205V207M744.5,204V207M745.5,204V206M746.5,204V206M747.5,203V206M748.5,203V205M749.5,203V205M750.5,202V205M751.5,202V204M752.5,201V204M753.5,201V203M754.5,201V203M755.5,200V203M756.5,200V202M757.5,200V202M758.5,199V202M759.5,199V201M760.5,198V201M761.5,198V200M762.5,198V200M763.5,197V200M764.5,197V199M765.5,197V199M766.5,196V199M767.5,196V198M768.5,196V198M769.5,195V198M770.5,195V197M771.5,195V197M772.5,194V197M773.5,194V196M774.5,194V196M775.5,193V196M776.5,193V195M777.5,193V195M778.5,192V195M779.5,192V194M780.5,192V194M781.5,191V194M782.5,191V193M783.5,191V193M784.5,190V193M785.5,190V192M786.5,190V192M787.5,190V192M788.5,190V192M789.5,189V192M790.5,189V191M791.5,189V191M792.5,189V191M793.5,188V191M794.5,188V190M795.5,188V190M796.5,188V190M797.5,187V190M798.5,187V189M799.5,187V189M800.5,187V189M801.5,186V189M802.5,186V188M803.5,186V188M804.5,186V188M805.5,186V188M806.5,185V188M807.5,185V187M808.5,185V187M809.5,185V187M810.5,185V187M811.5,184V187M812.5,184V186M813.5,184V186M814.5,184V186M815.5,184V186M816.5,183V186M817.5,183V185M818.5,183V185M819.5,183V185" fill="none" stroke="#ff0000" stroke-width="1"/>
<path d="M3.5,303V305M4.5,303V305M5.5,303V305M6.5,303V305M7.5,302V305M8.5,302V304M9.5,302V304M10.5,301V304M11.5,301V303M12.5,300V303M13.5,300V302M14.5,300V302M15.5,299V302M16.5,299V301M17.5,299V301M18.5,298V301M19.5,298V300M20.5,298V300M21.5,298V300M22.5,297V300M23.5,297V299M24.5,297V299M25.5,297V299M26.5,297V299M27.5,296V299M28.5,296V298M29.5,296V298M30.5,296V298M31.5,295V298M32.5,295V297M33.5,295V297M34.5,295V297M35.5,295V297M36.5,294V297M37.5,294V296M38.5,294V296M39.5,294V296M40.5,294V296M41.5,294V296M42.5,293V296M43.5,293V295M44.5,293V295M45.5,293V295M46.5,293V295M47.5,292V295M48.5,292V294M49.5,292V294M50.5,292V294M51.5,291V294M52.5,291V293M53.5,291V293M54.5,291V293M55.5,290V293M56.5,290V292M57.5,290V292M58.5,290V292M59.5,289V292M60.5,289V291M61.5,289V291M62.5,289V291M63.5,288V291M64.5,288V290M65.5,288V290M66.5,288V290M67.5,287V290M68.5,287V289M69.5,287V289M70.5,287V289M71.5,286V289M72.5,286V288M73.5,286V288M74.5,286V288M75.5,286V288M76.5,285V288M77.5,285V287M78.5,285V287M79.5,285V287M80.5,285V287M81.5,285V287M82.5,285V287M83.5,284V287M84.5,284V286M85.5,284V286M86.5,284V286M87.5,284V286M88.5,284V286M89.5,284V286M90.5,284V286M91.5,284V286M92.5,284V286M93.5,284V286M94.5,284V286M95.5,283V286M96.5,283V285M97.5,283V285M98.5,283V285M99.5,283V285M100.5,283V285M101.5,283V285M102.5,283V285M103.5,283V285M104.5,283V285M105.5,283V285M106.5,283V285M107.5,283V285M108.5,283V285M109.5,283V285M110.5,283V285M111.5,283V285M112.5,283V285M113.5,283V285M114.5,283V285M115.5,283V285M116.5,283V286M117.5,284V286M118.5,284V286M119.5,284V286M120.5,284V286M121.5,284V286M122.5,284V286M123.5,284V287M124.5,285V287M125.5,285V287M126.5,285V287M127.5,285V287M128.5,285V287M129.5,285V287M130.5,285V287M131.5,285V287M132.5,285V287M133.5,285V287M134.5,285V287M135.5,285V287M136.5,285V287M137.5,285V287M138.5,285V287M139.5,285V287M140.5,285V287M141.5,284V287M142.5,284V286M143.5,284V286M144.5,284V286M145.5,284V286M146.5,284V286M147.5,284V286M148.5,284V286M149.5,284V286M150.5,283V286M151.5,283V285M152.5,283V285M153.5,283V285M154.5,283V285M155.5,283V285M156.5,282V285M157.5,282V284M158.5,282V284M159.5,282V284M160.5,282V284M161.5,282V284M162.5,282V284M163.5,282V284M164.5,282V284M165.5,282V284M166.5,282V284M167.5,282V284M168.5,282V284M169.5,282V284M170.5,282V284M171.5,282V284M172.5,282V284M173.5,282V284M174.5,282V284M175.5,282V284M176.5,282V284M177.5,282V284M178.5,282V284M179.5,282V284M180.5,282V284M181.5,282V284M182.5,282V284M183.5,282V284M184.5,282V284M185.5,282V284M186.5,282V284M187.5,282V284M188.5,282V284M189.5,282V284M190.5,282V284M191.5,282V284M192.5,282V284M193.5,282V284M194.5,282V284M195.5,282V284M196.5,282V284M197.5,282V284M198.5,282V284M199.5,282V284M200.5,282V284M201.5,282V284M202.5,282V284M203.5,282V284M204.5,282V284M205.5,282V284M206.5,282V284M207.5,282V284M208.5,282V284M209.5,282V284M210.5,282V284M211.5,282V284M212.5,282V284M213.5,282V284M214.5,282V284M215.5,282V284M216.5,282V284M217.5,282V284M218.5,282V284M219.5,282V284M220.5,282V284M221.5,282V284M222.5,282V285M223.5,283V285M224.5,283V285M225.5,283V286M226.5,284V286M227.5,284V286M228.5,284V286M229.5,284V287M230.5,285V287M231.5,285V287M232.5,285V287M233.5,285V287M234.5,285V287M235.5,285V287M236.5,285V287M237.5,285V287M238.5,285V287M239.5,285V287M240.5,285V287M241.5,285V287M242.5,285V287M243.5,285V287M244.5,285V287M245.5,285V287M246.5,285V287M247.5,285V287M248.5,285V287M249.5,285V287M250.5,285V287M251.5,285V287M252.5,285V287M253.5,285V287M254.5,285V287M255.5,285V287M256.5,285V287M257.5,285V287M258.5,285V287M259.5,285V287M260.5,285V287M261.5,285V288M262.5,286V288M263.5,286V289M264.5,287V289M265.5,287V289M266.5,287V289M267.5,287V289M268.5,287V289M269.5,287V289M270.5,287V289M271.5,287V289M272.5,287V289M273.5,287V289M274.5,287V289M275.5,287V289M276.5,287V289M277.5,287V289M278.5,287V289M279.5,287V289M280.5,287V289M281.5,287V289M282.5,287V289M283.5,287V289M284.5,287V289M285.5,287V289M286.5,286V289M287.5,286V288M288.5,286V288M289.5,286V288M290.5,285V288M291.5,285V287M292.5,285V287M293.5,285V287M294.5,284V287M295.5,284V286M296.5,284V286M297.5,284V286M298.5,284V286M299.5,283V286M300.5,283V285M301.5,283V285M302.5,282V285M303.5,282V284M304.5,282V284M305.5,282V284M306.5,282V284M307.5,281V284M308.5,281V283M309.5,281V283M310.5,281V283M311.5,280V283M312.5,280V282M313.5,280V282M314.5,279V282M315.5,279V281M316.5,278V281M317.5,278V280M318.5,277V280M319.5,277V279M320.5,277V279M321.5,276V279M322.5,276V278M323.5,276V278M324.5,275V278M325.5,275V277M326.5,274V277M327.5,274V276M328.5,274V276M329.5,274V276M330.5,273V276M331.5,273V275M332.5,273V275M333.5,272V275M334.5,272V274M335.5,272V274M336.5,272V274M337.5,271V274M338.5,271V273M339.5,271V273M340.5,271V273M341.5,270V273M342.5,270V272M343.5,270V272M344.5,270V272M345.5,269V272M346.5,269V271M347.5,269V271M348.5,269V271M349.5,269V271M350.5,268V271M351.5,268V270M352.5,268V270M353.5,268V270M354.5,267V270M355.5,267V269M356.5,267V269M357.5,267V269M358.5,266V269M359.5,266V268M360.5,266V268M361.5,266V268M362.5,265V268M363.5,265V267M364.5,265V267M365.5,265V267M366.5,264V267M367.5,264V266M368.5,264V266M369.5,264V266M370.5,264V266M371.5,264V266M372.5,264V266M373.5,263V266M374.5,263V265M375.5,263V265M376.5,263V265M377.5,263V265M378.5,262V265M379.5,262V264M380.5,262V264M381.5,262V264M382.5,262V264M383.5,261V264M384.5,261V263M385.5,261V263M386.5,261V263M387.5,261V263M388.5,260V263M389.5,260V262M390.5,260V262M391.5,260V262M392.5,260V262M393.5,260V262M394.5,259V262M395.5,259V261M396.5,259V261M397.5,259V261M398.5,259V261M399.5,259V261M400.5,258V261M401.5,258V260M402.5,258V260M403.5,258V260M404.5,258V260M405.5,257V260M406.5,257V259M407.5,257V259M408.5,257V259M409.5,257V259M410.5,256V259M411.5,256V258M412.5,256V258M413.5,256V258M414.5,256V258M415.5,256V258M416.5,255V258M417.5,255V257M418.5,255V257M419.5,255V257M420.5,255V257M421.5,255V257M422.5,254V257M423.5,254V256M424.5,254V256M425.5,254V256M426.5,254V256M427.5,253V256M428.5,253V255M429.5,252V255M430.5,252V254M431.5,252V254M432.5,251V254M433.5,251V253M434.5,250V253M435.5,250V252M436.5,250V252M437.5,250V252M438.5,249V252M439.5,249V251M440.5,249V251M441.5,248V251M442.5,248V250M443.5,248V250M444.5,248V250M445.5,247V250M446.5,247V249M447.5,247V249M448.5,247V249M449.5,246V249M450.5,246V248M451.5,246V248M452.5,245V248M453.5,245V247M454.5,245V247M455.5,244V247M456.5,244V246M457.5,244V246M458.5,243V246M459.5,243V245M460.5,243V245M461.5,242V245M462.5,242V244M463.5,242V244M464.5,242V244M465.5,241V244M466.5,241V243M467.5,241V243M468.5,240V243M469.5,240V242M470.5,240V242M471.5,240V242M472.5,239V242M473.5,239V241M474.5,239V241M475.5,238V241M476.5,238V240M477.5,237V240M478.5,237V239M479.5,236V239M480.5,235V238M481.5,235V237M482.5,235V237M483.5,234V237M484.5,234V236M485.5,233V236M486.5,233V235M487.5,233V235M488.5,232V235M489.5,232V234M490.5,232V234M491.5,231V234M492.5,231V233M493.5,230V233M494.5,230V232M495.5,229V232M496.5,229V231M497.5,229V231M498.5,228V231M499.5,228V230M500.5,227V230M501.5,227V229M502.5,226V229M503.5,226V228M504.5,225V228M505.5,225V227M506.5,225V227M507.5,224V227M508.5,224V226M509.5,223V226M510.5,223V225M511.5,222V225M512.5,222V224M513.5,221V224M514.5,221V223M515.5,220V223M516.5,220V222M517.5,219V222M518.5,219V221M519.5,218V221M520.5,218V220M521.5,217V220M522.5,217V219M523.5,217V219M524.5,216V219M525.5,216V218M526.5,215V218M527.5,215V217M528.5,214V217M529.5,214V216M530.5,213V216M531.5,213V215M532.5,213V215M533.5,212V215M534.5,212V214M535.5,211V214M536.5,211V213M537.5,210V213M538.5,210V212M539.5,209V212M540.5,209V211M541.5,208V211M542.5,208V210M543.5,207V210M544.5,206V209M545.5,206V208M546.5,205V208M547.5,205V207M548.5,204V207M549.5,204V206M550.5,203V206M551.5,202V205M552.5,202V204M553.5,201V204M554.5,200V203M555.5,200V202M556.5,199V202M557.5,199V201M558.5,198V201M559.5,197V200M560.5,196V199M561.5,195V198M562.5,195V197M563.5,194V197M564.5,193V196M565.5,192V195M566.5,191V194M567.5,190V193M568.5,189V192M569.5,188V191M570.5,187V190M571.5,186V189M572.5,185V188M573.5,184V187M574.5,183V186M575.5,182V185M576.5,181V184M577.5,180V183M578.5,179V182M579.5,178V181M580.5,177V180M581.5,176V179M582.5,175V178M583.5,174V177M584.5,173V176M585.5,172V175M586.5,171V174M587.5,170V173M588.5,169V172M589.5,168V171M590.5,167V170M591.5,166V169M592.5,165V168M593.5,164V167M594.5,164V166M595.5,163V166M596.5,162V165M597.5,161V164M598.5,160V163M599.5,159V162M600.5,157V161M601.5,156V159M602.5,155V158M603.5,154V157M604.5,153V156M605.5,152V155M606.5,151V154M607.5,150V153M608.5,149V152M609.5,148V151M610.5,147V150M611.5,146V149M612.5,145V148M613.5,144V147M614.5,143V146M615.5,142V145M616.5,141V144M617.5,140V143M618.5,139V142M619.5,138V141M620.5,137V140M621.5,136V139M622.5,135V138M623.5,135V137M624.5,134V137M625.5,133V136M626.5,133V135M627.5,132V135M628.5,131V134M629.5,131V133M630.5,130V133M631.5,129V132M632.5,129V131M633.5,128V131M634.5,127V130M635.5,126V129M636.5,126V128M637.5,125V128M638.5,124V127M639.5,124V126M640.5,123V126M641.5,122V125M642.5,122V124M643.5,121V124M644.5,120V123M645.5,119V122M646.5,119V121M647.5,118V121M648.5,117V120M649.5,116V119M650.5,115V118M651.5,115V117M652.5,114V117M653.5,113V116M654.5,112V115M655.5,111V114M656.5,110V113M657.5,110V112M658.5,109V112M659.5,108V111M660.5,107V110M661.5,106V109M662.5,105V108M663.5,104V107M664.5,103V106M665.5,102V105M666.5,101V104M667.5,101V103M668.5,100V103M669.5,99V102M670.5,98V101M671.5,97V100M672.5,97V99M673.5,96V99M674.5,95V98M675.5,94V97M676.5,93V96M677.5,93V95M678.5,92V95M679.5,92V94M680.5,91V94M681.5,90V93M682.5,90V92M683.5,89V92M684.5,89V91M685.5,88V91M686.5,87V90M687.5,87V89M688.5,86V89M689.5,86V88M690.5,85V88M691.5,84V87M692.5,84V86M693.5,83V86M694.5,83V85M695.5,82V85M696.5,81V84M697.5,81V83M698.5,80V83M699.5,80V82M700.5,79V82M701.5,79V81M702.5,78V81M703.5,78V80M704.5,78V80M705.5,77V80M706.5,77V79M707.5,76V79M708.5,76V78M709.5,75V78M710.5,75V77M711.5,74V77M712.5,73V76M713.5,73V75M714.5,72V75M715.5,71V74M716.5,71V73M717.5,70V73M718.5,69V72M719.5,69V71M720.5,68V71M721.5,68V70M722.5,67V70M723.5,67V69M724.5,66V69M725.5,66V68M726.5,66V68M727.5,65V68M728.5,65V67M729.5,65V67M730.5,65V67M731.5,65V67M732.5,64V67M733.5,64V66M734.5,63V66M735.5,63V65M736.5,62V65M737.5,62V64M738.5,61V64M739.5,61V63M740.5,60V63M741.5,60V62M742.5,59V62M743.5,59V61M744.5,58V61M745.5,58V60M746.5,57V60M747.5,57V59M748.5,56V59M749.5,55V58M750.5,55V57M751.5,54V57M752.5,54V56M753.5,53V56M754.5,53V55M755.5,53V55M756.5,52V55M757.5,52V54M758.5,52V54M759.5,51V54M760.5,51V53M761.5,51V53M762.5,50V53M763.5,50V52M764.5,50V52M765.5,50V52M766.5,50V52M767.5,50V52M768.5,50V52M769.5,50V52M770.5,49V52M771.5,49V51M772.5,49V51M773.5,49V51M774.5,49V51M775.5,49V51M776.5,49V51M777.5,49V51M778.5,49V51M779.5,49V51M780.5,49V51M781.5,49V51M782.5,49V51M783.5,49V51M784.5,49V51M785.5,49V51M786.5,49V51M787.5,49V51M788.5,49V51M789.5,49V51M790.5,49V51M791.5,49V51M792.5,49V51M793.5,49V51M794.5,49V51M795.5,49V51M796.5,49V51M797.5,49V51M798.5,49V52M799.5,50V52M800.5,50V52M801.5,50V52M802.5,50V52M803.5,50V52M804.5,50V52M805.5,50V52M806.5,50V52M807.5,50V53M808.5,51V53M809.5,51V53M810.5,51V53M811.5,51V54M812.5,52V54M813.5,52V54M814.5,52V55M815.5,53V55M816.5,53V55M817.5,53V55M818.5,53V55M819.5,53V55" fill="none" stroke="#0000ff" stroke-width="1"/>
<path d="M3.5,295V298M4.5,295V297M5.5,295V297M6.5,295V297M7.5,294V297M8.5,294V296M9.5,294V296M10.5,294V296M11.5,293V296M12.5,293V295M13.5,292V295M14.5,292V294M15.5,292V294M16.5,291V294M17.5,291V293M18.5,290V293M19.5,290V292M20.5,289V292M21.5,289V291M22.5,289V291M23.5,288V291M24.5,287V290M25.5,287V289M26.5,286V289M27.5,285V288M28.5,284V287M29.5,284V286M30.5,283V286M31.5,282V285M32.5,282V284M33.5,281V284M34.5,281V283M35.5,280V283M36.5,280V282M37.5,280V282M38.5,280V282M39.5,279V282M40.5,279V281M41.5,279V281M42.5,279V281M43.5,278V281M44.5,278V280M45.5,278V280M46.5,278V280M47.5,278V280M48.5,277V280M49.5,277V279M50.5,277V279M51.5,277V279M52.5,277V279M53.5,277V279M54.5,276V279M55.5,276V278M56.5,276V278M57.5,276V278M58.5,276V278M59.5,275V278M60.5,274V277M61.5,274V276M62.5,273V276M63.5,272V275M64.5,271V274M65.5,270V273M66.5,269V272M67.5,269V271M68.5,268V271M69.5,268V270M70.5,267V270M71.5,267V269M72.5,267V269M73.5,267V269M74.5,266V269M75.5,266V268M76.5,266V268M77.5,266V268M78.5,266V268M79.5,266V268M80.5,266V268M81.5,266V268M82.5,266V269M83.5,267V269M84.5,267V269M85.5,267V270M86.5,268V270M87.5,268V270M88.5,268V271M89.5,269V272M90.5,270V272M91.5,270V273M92.5,271V273M93.5,271V274M94.5,272V274M95.5,272V275M96.5,273V275M97.5,273V275M98.5,273V276M99.5,274V276M100.5,274V276M101.5,274V277M102.5,275V277M103.5,275V277M104.5,275V277M105.5,275V278M106.5,276V278M107.5,276V278M108.5,276V279M109.5,277V279M110.5,277V279M111.5,277V280M112.5,278V280M113.5,278V281M114.5,279V281M115.5,279V282M116.5,280V283M117.5,281V284M118.5,282V284M119.5,282V285M120.5,283V286M121.5,284V287M122.5,285V288M123.5,286V289M124.5,287V289M125.5,287V290M126.5,288V290M127.5,288V291M128.5,289V291M129.5,289V292M130.5,290V293M131.5,291V293M132.5,291V293M133.5,291V293M134.5,291V293M135.5,291V293M136.5,291V293M137.5,291V293M138.5,291V293M139.5,291V293M140.5,291V293M141.5,291V293M142.5,291V293M143.5,291V293M144.5,291V293M145.5,291V293M146.5,291V293M147.5,291V293M148.5,291V293M149.5,291V293M150.5,291V293M151.5,291V293M152.5,291V293M153.5,291V293M154.5,291V293M155.5,291V293M156.5,291V293M157.5,291V293M158.5,291V293M159.5,291V293M160.5,291V293M161.5,291V293M162.5,291V293M163.5,291V293M164.5,291V293M165.5,291V293M166.5,291V293M167.5,291V293M168.5,291V293M169.5,291V293M170.5,291V293M171.5,291V293M172.5,291V293M173.5,291V293M174.5,291V293M175.5,291V293M176.5,291V293M177.5,291V293M178.5,291V293M179.5,290V293M180.5,290V292M181.5,290V292M182.5,290V292M183.5,290V292M184.5,290V292M185.5,290V292M186.5,290V292M187.5,290V292M188.5,290V292M189.5,290V292M190.5,290V292M191.5,290V292M192.5,290V292M193.5,290V292M194.5,290V292M195.5,290V292M196.5,290V292M197.5,290V293M198.5,291V293M199.5,291V293M200.5,291V293M201.5,291V293M202.5,291V293M203.5,291V293M204.5,291V293M205.5,291V293M206.5,291V293M207.5,291V293M208.5,291V293M209.5,290V293M210.5,290V292M211.5,290V292M212.5,290V292M213.5,290V292M214.5,290V292M215.5,290V292M216.5,290V292M217.5,290V292M218.5,290V292M219.5,290V292M220.5,290V292M221.5,289V292M222.5,289V291M223.5,289V291M224.5,289V291M225.5,289V291M226.5,289V291M227.5,289V291M228.5,289V291M229.5,289V291M230.5,289V291M231.5,289V291M232.5,289V291M233.5,289V291M234.5,289V291M235.5,289V291M236.5,289V291M237.5,288V291M238.5,288V290M239.5,288V290M240.5,288V290M241.5,287V290M242.5,287V289M243.5,287V289M244.5,287V289M245.5,286V289M246.5,286V288M247.5,286V288M248.5,285V288M249.5,285V287M250.5,285V287M251.5,285V287M252.5,284V287M253.5,284V286M254.5,284V286M255.5,284V286M256.5,283V286M257.5,283V285M258.5,283V285M259.5,282V285M260.5,282V284M261.5,282V284M262.5,282V284M263.5,282V284M264.5,281V284M265.5,281V283M266.5,281V283M267.5,281V283M268.5,280V283M269.5,280V282M270.5,279V282M271.5,278V281M272.5,278V280M273.5,278V280M274.5,277V280M275.5,277V279M276.5,276V279M277.5,276V278M278.5,276V278M279.5,275V278M280.5,274V277M281.5,274V276M282.5,273V276M283.5,272V275M284.5,272V274M285.5,272V274M286.5,272V274M287.5,271V274M288.5,270V273M289.5,269V272M290.5,268V271M291.5,268V270M292.5,267V270M293.5,266V269M294.5,265V268M295.5,264V267M296.5,264V266M297.5,263V266M298.5,262V265M299.5,262V264M300.5,261V264M301.5,261V263M302.5,260V263M303.5,260V262M304.5,260V262M305.5,260V262M306.5,259V262M307.5,259V261M308.5,259V261M309.5,258V261M310.5,258V260M311.5,257V260M312.5,257V259M313.5,257V259M314.5,256V259M315.5,256V258M316.5,255V258M317.5,255V257M318.5,254V257M319.5,254V256M320.5,253V256M321.5,253V255M322.5,253V255M323.5,252V255M324.5,252V254M325.5,252V254M326.5,251V254M327.5,251V253M328.5,251V253M329.5,250V253M330.5,250V252M331.5,250V252M332.5,249V252M333.5,249V251M334.5,249V251M335.5,249V251M336.5,248V251M337.5,248V250M338.5,248V250M339.5,248V250M340.5,248V250M341.5,248V250M342.5,247V250M343.5,247V249M344.5,247V249M345.5,247V249M346.5,247V249M347.5,247V249M348.5,247V249M349.5,247V249M350.5,247V249M351.5,247V249M352.5,247V249M353.5,247V249M354.5,246V249M355.5,246V248M356.5,246V248M357.5,246V248M358.5,246V248M359.5,246V248M360.5,246V248M361.5,246V249M362.5,247V249M363.5,247V249M364.5,247V249M365.5,247V249M366.5,247V249M367.5,247V249M368.5,247V249M369.5,247V249M370.5,247V249M371.5,247V249M372.5,247V249M373.5,247V249M374.5,247V249M375.5,247V249M376.5,247V249M377.5,247V249M378.5,247V249M379.5,247V249M380.5,247V250M381.5,248V250M382.5,248V250M383.5,248V250M384.5,248V250M385.5,248V250M386.5,248V250M387.5,248V250M388.5,248V250M389.5,248V250M390.5,248V250M391.5,248V250M392.5,248V250M393.5,248V250M394.5,247V250M395.5,247V250M396.5,248V250M397.5,248V250M398.5,248V251M399.5,249V251M400.5,249V251M401.5,249V251M402.5,249V252M403.5,250V252M404.5,250V252M405.5,250V252M406.5,250V253M407.5,251V253M408.5,251V253M409.5,251V253M410.5,251V253M411.5,251V253M412.5,251V253M413.5,251V253M414.5,251V253M415.5,251V253M416.5,251V253M417.5,251V253M418.5,251V253M419.5,251V253M420.5,251V253M421.5,251V253M422.5,251V253M423.5,251V253M424.5,251V253M425.5,251V253M426.5,251V253M427.5,250V253M428.5,250V252M429.5,249V252M430.5,249V251M431.5,249V251M432.5,248V251M433.5,248V250M434.5,248V250M435.5,247V250M436.5,247V249M437.5,247V249M438.5,246V249M439.5,246V248M440.5,245V248M441.5,245V247M442.5,244V247M443.5,243V246M444.5,243V245M445.5,242V245M446.5,241V244M447.5,241V243M448.5,240V243M449.5,240V242M450.5,239V242M451.5,238V241M452.5,238V240M453.5,237V240M454.5,237V239M455.5,236V239M456.5,236V238M457.5,235V238M458.5,234V237M459.5,234V236M460.5,233V236M461.5,232V235M462.5,231V234M463.5,231V233M464.5,230V233M465.5,230V232M466.5,229V232M467.5,228V231M468.5,228V230M469.5,227V230M470.5,227V229M471.5,226V229M472.5,226V228M473.5,225V228M474.5,225V227M475.5,224V227M476.5,223V226M477.5,222V225M478.5,221V224M479.5,219V223M480.5,218V221M481.5,216V220M482.5,215V218M483.5,213V217M484.5,212V215M485.5,211V214M486.5,209V213M487.5,208V211M488.5,207V210M489.5,206V209M490.5,205V208M491.5,204V207M492.5,202V206M493.5,201V204M494.5,199V203M495.5,198V201M496.5,197V200M497.5,196V199M498.5,195V198M499.5,194V197M500.5,193V196M501.5,192V195M502.5,191V194M503.5,190V193M504.5,189V192M505.5,188V191M506.5,187V190M507.5,186V189M508.5,185V188M509.5,184V187M510.5,183V186M511.5,182V185M512.5,181V184M513.5,180V183M514.5,179V182M515.5,178V181M516.5,177V180M517.5,176V179M518.5,175V178M519.5,174V177M520.5,173V176M521.5,172V175M522.5,171V174M523.5,170V173M524.5,169V172M525.5,168V171M526.5,167V170M527.5,166V169M528.5,165V168M529.5,164V167M530.5,163V166M531.5,162V165M532.5,162V164M533.5,161V164M534.5,160V163M535.5,159V162M536.5,159V161M537.5,159V161M538.5,158V161M539.5,158V160M540.5,157V160M541.5,157V159M542.5,156V159M543.5,156V158M544.5,156V158M545.5,155V158M546.5,155V157M547.5,154V157M548.5,153V156M549.5,153V155M550.5,152V155M551.5,151V154M552.5,151V153M553.5,150V153M554.5,150V152M555.5,149V152M556.5,148V151M557.5,148V150M558.5,147V150M559.5,146V149M560.5,145V148M561.5,145V147M562.5,144V147M563.5,142V146M564.5,140V144M565.5,138V142M566.5,136V140M567.5,134V138M568.5,132V136M569.5,130V134M570.5,128V132M571.5,126V130M572.5,124V128M573.5,122V126M574.5,121V124M575.5,119V123M576.5,117V121M577.5,116V119M578.5,114V118M579.5,112V116M580.5,111V114M581.5,109V113M582.5,107V111M583.5,105V109M584.5,104V107M585.5,102V106M586.5,101V104M587.5,99V103M588.5,98V101M589.5,97V100M590.5,96V99M591.5,95V98M592.5,94V97M593.5,93V96M594.5,92V95M595.5,91V94M596.5,90V93M597.5,89V92M598.5,88V91M599.5,88V90M600.5,87V90M601.5,86V89M602.5,85V88M603.5,85V87M604.5,84V87M605.5,83V86M606.5,82V85M607.5,81V84M608.5,80V83M609.5,80V82M610.5,79V82M611.5,79V81M612.5,78V81M613.5,78V80M614.5,78V80M615.5,78V80M616.5,77V80M617.5,77V79M618.5,77V79M619.5,77V79M620.5,77V79M621.5,77V79M622.5,77V79M623.5,77V79M624.5,77V79M625.5,77V80M626.5,78V80M627.5,78V80M628.5,78V80M629.5,78V81M630.5,79V81M631.5,79V81M632.5,79V82M633.5,80V82M634.5,80V82M635.5,80V82M636.5,80V83M637.5,81V83M638.5,81V83M639.5,81V83M640.5,81V83M641.5,81V83M642.5,81V83M643.5,81V83M644.5,80V83M645.5,80V82M646.5,79V82M647.5,79V81M648.5,78V81M649.5,78V80M650.5,77V80M651.5,77V79M652.5,76V79M653.5,76V78M654.5,76V78M655.5,75V78M656.5,75V77M657.5,74V77M658.5,74V76M659.5,73V76M660.5,72V75M661.5,71V74M662.5,71V73M663.5,70V73M664.5,70V72M665.5,69V72M666.5,69V71M667.5,68V71M668.5,67V70M669.5,66V69M670.5,65V68M671.5,64V67M672.5,64V66M673.5,63V66M674.5,62V65M675.5,61V64M676.5,61V63M677.5,60V63M678.5,60V62M679.5,60V62M680.5,59V62M681.5,59V61M682.5,58V61M683.5,58V60M684.5,57V60M685.5,57V59M686.5,56V59M687.5,56V58M688.5,56V58M689.5,55V58M690.5,55V57M691.5,55V57M692.5,54V57M693.5,54V56M694.5,53V56M695.5,53V55M696.5,53V55M697.5,52V55M698.5,52V54M699.5,52V54M700.5,51V54M701.5,51V53M702.5,51V53M703.5,51V53M704.5,50V53M705.5,50V52M706.5,50V52M707.5,50V52M708.5,49V52M709.5,49V51M710.5,48V51M711.5,48V50M712.5,47V50M713.5,46V49M714.5,46V48M715.5,45V48M716.5,45V47M717.5,45V47M718.5,45V47M719.5,44V47M720.5,44V46M721.5,44V46M722.5,44V46M723.5,44V46M724.5,43V46M725.5,43V45M726.5,43V45M727.5,43V45M728.5,43V45M729.5,42V45M730.5,42V44M731.5,42V44M732.5,42V44M733.5,42V44M734.5,42V44M735.5,42V44M736.5,42V44M737.5,42V44M738.5,42V44M739.5,42V44M740.5,42V44M741.5,42V44M742.5,41V44M743.5,41V43M744.5,41V43M745.5,41V43M746.5,40V43M747.5,40V42M748.5,40V42M749.5,40V42M750.5,40V42M751.5,40V42M752.5,40V42M753.5,39V42M754.5,39V41M755.5,39V41M756.5,39V42M757.5,40V42M758.5,40V42M759.5,40V42M760.5,40V42M761.5,40V42M762.5,40V42M763.5,40V42M764.5,40V43M765.5,41V43M766.5,41V43M767.5,41V44M768.5,42V44M769.5,42V44M770.5,42V44M771.5,42V44M772.5,42V44M773.5,42V44M774.5,42V44M775.5,42V44M776.5,42V44M777.5,42V44M778.5,42V44M779.5,42V44M780.5,42V44M781.5,42V45M782.5,43V45M783.5,43V45M784.5,43V46M785.5,44V46M786.5,44V47M787.5,45V47M788.5,45V47M789.5,45V48M790.5,46V48M791.5,46V48M792.5,46V48M793.5,46V49M794.5,47V49M795.5,47V49M796.5,47V50M797.5,48V50M798.5,48V51M799.5,49V51M800.5,49V52M801.5,50V52M802.5,50V52M803.5,50V53M804.5,51V53M805.5,51V53M806.5,51V53M807.5,51V54M808.5,52V55M809.5,53V57M810.5,55V58M811.5,56V59M812.5,57V61M813.5,59V62M814.5,60V63M815.5,61V64M816.5,62V66M817.5,64V67M818.5,65V68M819.5,66V69" fill="none" stroke="#ff00ff" stroke-width="1"/>
<polyline points="3.5,374.6 7.5,374.6 11.5,376.2 15.5,372.6 19.5,368.4 23.5,370.3 27.5,367.3 31.5,369.2 35.5,369.6 39.5,377.6 43.5,375.3 47.5,378.1 51.5,381.4 55.5,377.6 59.5,378.4 63.5,365.9 67.5,363.3 71.5,367.0 75.5,380.3 79.5,385.3 83.5,389.2 87.5,391.1 91.5,396.4 95.5,397.6 99.5,393.3 103.5,397.3 107.5,395.2 111.5,398.3 115.5,405.0 119.5,407.2 123.5,410.0 127.5,400.0 131.5,396.1 135.5,394.1 139.5,391.7 143.5,390.3 147.5,387.8 151.5,386.3 155.5,386.3 159.5,391.4 163.5,386.3 167.5,391.4 171.5,388.9 175.5,388.3 179.5,384.4 183.5,386.3 187.5,386.7 191.5,392.2 195.5,389.4 199.5,391.4 203.5,388.3 207.5,387.2 211.5,383.3 215.5,385.2 219.5,385.6 223.5,390.0 227.5,392.2 231.5,386.1 235.5,383.3 239.5,377.8 243.5,371.4 247.5,378.1 251.5,379.2 255.5,373.3 259.5,375.0 263.5,377.2 267.5,372.8 271.5,368.1 275.5,367.0 279.5,369.2 283.5,362.2 287.5,369.2 291.5,365.6 295.5,361.4 299.5,360.3 303.5,372.8 307.5,379.2 311.5,373.9 315.5,371.1 319.5,369.2 323.5,368.3 327.5,370.6 331.5,373.3 335.5,375.2 339.5,375.6 343.5,386.3 347.5,385.2 351.5,382.6 355.5,378.3 359.5,384.1 363.5,384.4 367.5,389.4 371.5,388.3 375.5,385.6 379.5,386.3 383.5,387.2 387.5,385.2 391.5,383.3 395.5,385.6 399.5,393.9 403.5,398.3 407.5,392.6 411.5,392.2 415.5,388.3 419.5,389.4 423.5,385.6 427.5,376.7 431.5,372.8 435.5,370.8 439.5,366.7 443.5,367.2 447.5,362.2 451.5,364.4 455.5,363.3 459.5,357.8 463.5,365.0 467.5,362.6 471.5,370.3 475.5,370.3 479.5,354.8 483.5,354.4 487.5,355.6 491.5,355.3 495.5,354.4 499.5,354.4 503.5,353.3 507.5,352.2 511.5,350.3 515.5,353.3 519.5,352.2 523.5,352.2 527.5,352.2 531.5,352.2 535.5,350.2 539.5,355.6 543.5,362.2 547.5,361.1 551.5,357.2 555.5,358.3 559.5,356.1 563.5,354.1 567.5,343.3 571.5,359.4 575.5,358.3 579.5,357.2 583.5,354.4 587.5,359.4 591.5,362.2 595.5,362.2 599.5,363.3 603.5,363.3 607.5,362.2 611.5,370.0 615.5,371.7 619.5,370.3 623.5,386.3 627.5,386.3 631.5,388.3 635.5,389.4 639.5,383.7 643.5,383.0 647.5,373.3 651.5,375.2 655.5,376.7 659.5,371.4 663.5,372.2 667.5,371.4 671.5,365.6 675.5,369.2 679.5,371.4 683.5,371.4 687.5,372.6 691.5,374.4 695.5,371.4 699.5,378.3 703.5,378.3 707.5,373.7 711.5,372.2 715.5,368.6 719.5,377.2 723.5,375.2 727.5,375.2 731.5,383.3 735.5,385.6 739.5,379.4 743.5,377.5 747.5,375.6 751.5,382.2 755.5,383.9 759.5,389.4 763.5,384.4 767.5,393.3 771.5,391.1 775.5,382.2 779.5,382.2 783.5,393.3 787.5,399.4 791.5,392.2 795.5,391.4 799.5,398.3 803.5,388.3 807.5,394.4 811.5,406.1 815.5,408.6 819.5,402.2" fill="none" stroke="#1e90ff" stroke-width="1" stroke-linejoin="round" />
<rect x="3" y="505" width="2" height="10" fill="#666666"/>
<rect x="6" y="503" width="3" height="12" fill="#666666"/>
<rect x="10" y="502" width="3" height="13" fill="#666666"/>
<rect x="14" y="501" width="3" height="14" fill="#666666"/>
<rect x="18" y="498" width="3" height="17" fill="#666666"/>
<rect x="22" y="497" width="3" height="18" fill="#666666"/>
<rect x="26" y="495" width="3" height="20" fill="#666666"/>
<rect x="30" y="494" width="3" height="21" fill="#666666"/>
<rect x="34" y="495" width="3" height="20" fill="#666666"/>
<rect x="38" y="497" width="3" height="18" fill="#666666"/>
<rect x="42" y="498" width="3" height="17" fill="#666666"/>
<rect x="46" y="500" width="3" height="15" fill="#666666"/>
<rect x="50" y="502" width="3" height="13" fill="#666666"/>
<rect x="54" y="503" width="3" height="12" fill="#666666"/>
<rect x="58" y="503" width="3" height="12" fill="#666666"/>
<rect x="62" y="498" width="3" height="17" fill="#666666"/>
<rect x="66" y="494" width="3" height="21" fill="#666666"/>
<rect x="70" y="492" width="3" height="23" fill="#666666"/>
<rect x="74" y="496" width="3" height="19" fill="#666666"/>
<rect x="78" y="500" width="3" height="15" fill="#666666"/>
<rect x="82" y="505" width="3" height="10" fill="#666666"/>
<rect x="86" y="509" width="3" height="6" fill="#666666"/>
<rect x="90" y="514" width="3" height="1" fill="#666666"/>
<rect x="94" y="515" width="3" height="3" fill="#666666"/>
<rect x="98" y="515" width="3" height="4" fill="#666666"/>
<rect x="102" y="515" width="3" height="6" fill="#666666"/>
<rect x="106" y="515" width="3" height="7" fill="#666666"/>
<rect x="110" y="515" width="3" height="9" fill="#666666"/>
<rect x="114" y="515" width="3" height="13" fill="#666666"/>
<rect x="118" y="515" width="3" height="16" fill="#666666"/>
<rect x="122" y="515" width="3" height="20" fill="#666666"/>
<rect x="126" y="515" width="3" height="19" fill="#666666"/>
<rect x="130" y="515" width="3" height="17" fill="#666666"/>
<rect x="134" y="515" width="3" height="15" fill="#666666"/>
<rect x="138" y="515" width="3" height="12" fill="#666666"/>
<rect x="142" y="515" width="3" height="10" fill="#666666"/>
<rect x="146" y="515" width="3" height="7" fill="#666666"/>
<rect x="150" y="515" width="3" height="5" fill="#666666"/>
<rect x="154" y="515" width="3" height="3" fill="#666666"/>
<rect x="158" y="515" width="3" height="4" fill="#666666"/>
<rect x="162" y="515" width="3" height="3" fill="#666666"/>
<rect x="166" y="515" width="3" height="4" fill="#666666"/>
<rect x="170" y="515" width="3" height="4" fill="#666666"/>
<rect x="174" y="515" width="3" height="3" fill="#666666"/>
<rect x="178" y="515" width="3" height="2" fill="#666666"/>
<rect x="182" y="515" width="3" height="1" fill="#666666"/>
<rect x="186" y="515" width="3" height="1" fill="#666666"/>
<rect x="190" y="515" width="3" height="2" fill="#666666"/>
<rect x="194" y="515" width="3" height="2" fill="#666666"/>
<rect x="198" y="515" width="3" height="3" fill="#666666"/>
<rect x="202" y="515" width="3" height="2" fill="#666666"/>
<rect x="206" y="515" width="3" height="2" fill="#666666"/>
<rect x="210" y="515" width="3" height="2" fill="#666666"/>
<rect x="214" y="515" width="3" height="1" fill="#666666"/>
<rect x="218" y="514" width="3" height="1" fill="#666666"/>
<rect x="222" y="514" width="3" height="1" fill="#666666"/>
<rect x="226" y="515" width="3" height="1" fill="#666666"/>
<rect x="230" y="515" width="3" height="1" fill="#666666"/>
<rect x="234" y="515" width="3" height="1" fill="#666666"/>
<rect x="238" y="513" width="3" height="2" fill="#666666"/>
<rect x="242" y="509" width="3" height="6" fill="#666666"/>
<rect x="246" y="508" width="3" height="7" fill="#666666"/>
<rect x="250" y="508" width="3" height="7" fill="#666666"/>
<rect x="254" y="507" width="3" height="8" fill="#666666"/>
<rect x="258" y="506" width="3" height="9" fill="#666666"/>
<rect x="262" y="506" width="3" height="9" fill="#666666"/>
<rect x="266" y="505" width="3" height="10" fill="#666666"/>
<rect x="270" y="503" width="3" height="12" fill="#666666"/>
<rect x="274" y="501" width="3" height="14" fill="#666666"/>
<rect x="278" y="500" width="3" height="15" fill="#666666"/>
<rect x="282" y="497" width="3" height="18" fill="#666666"/>
<rect x="286" y="497" width="3" height="18" fill="#666666"/>
<rect x="290" y="495" width="3" height="20" fill="#666666"/>
<rect x="294" y="492" width="3" height="23" fill="#666666"/>
<rect x="298" y="490" width="3" height="25" fill="#666666"/>
<rect x="302" y="492" width="3" height="23" fill="#666666"/>
<rect x="306" y="496" width="3" height="19" fill="#666666"/>
<rect x="310" y="496" width="3" height="19" fill="#666666"/>
<rect x="314" y="495" width="3" height="20" fill="#666666"/>
<rect x="318" y="494" width="3" height="21" fill="#666666"/>
<rect x="322" y="493" width="3" height="22" fill="#666666"/>
<rect x="326" y="494" width="3" height="21" fill="#666666"/>
<rect x="330" y="495" width="3" height="20" fill="#666666"/>
<rect x="334" y="497" width="3" height="18" fill="#666666"/>
<rect x="338" y="498" width="3" height="17" fill="#666666"/>
<rect x="342" y="502" width="3" height="13" fill="#666666"/>
<rect x="346" y="505" width="3" height="10" fill="#666666"/>
<rect x="350" y="506" width="3" height="9" fill="#666666"/>
<rect x="354" y="505" width="3" height="10" fill="#666666"/>
<rect x="358" y="506" width="3" height="9" fill="#666666"/>
<rect x="362" y="508" width="3" height="7" fill="#666666"/>
<rect x="366" y="510" width="3" height="5" fill="#666666"/>
<rect x="370" y="511" width="3" height="4" fill="#666666"/>
<rect x="374" y="511" width="3" height="4" fill="#666666"/>
<rect x="378" y="511" width="3" height="4" fill="#666666"/>
<rect x="382" y="512" width="3" height="3" fill="#666666"/>
<rect x="386" y="512" width="3" height="3" fill="#666666"/>
<rect x="390" y="511" width="3" height="4" fill="#666666"/>
<rect x="394" y="512" width="3" height="3" fill="#666666"/>
<rect x="398" y="514" width="3" height="1" fill="#666666"/>
<rect x="402" y="515" width="3" height="3" fill="#666666"/>
<rect x="406" y="515" width="3" height="3" fill="#666666"/>
<rect x="410" y="515" width="3" height="3" fill="#666666"/>
<rect x="414" y="515" width="3" height="2" fill="#666666"/>
<rect x="418" y="515" width="3" height="2" fill="#666666"/>
<rect x="422" y="515" width="3" height="1" fill="#666666"/>
<rect x="426" y="512" width="3" height="3" fill="#666666"/>
<rect x="430" y="509" width="3" height="6" fill="#666666"/>
<rect x="434" y="506" width="3" height="9" fill="#666666"/>
<rect x="438" y="503" width="3" height="12" fill="#666666"/>
<rect x="442" y="502" width="3" height="13" fill="#666666"/>
<rect x="446" y="498" width="3" height="17" fill="#666666"/>
<rect x="450" y="497" width="3" height="18" fill="#666666"/>
<rect x="454" y="496" width="3" height="19" fill="#666666"/>
<rect x="458" y="493" width="3" height="22" fill="#666666"/>
<rect x="462" y="493" width="3" height="22" fill="#666666"/>
<rect x="466" y="491" width="3" height="24" fill="#666666"/>
<rect x="470" y="492" width="3" height="23" fill="#666666"/>
<rect x="474" y="493" width="3" height="22" fill="#666666"/>
<rect x="478" y="483" width="3" height="32" fill="#666666"/>
<rect x="482" y="476" width="3" height="39" fill="#666666"/>
<rect x="486" y="473" width="3" height="42" fill="#666666"/>
<rect x="490" y="472" width="3" height="43" fill="#666666"/>
<rect x="494" y="471" width="3" height="44" fill="#666666"/>
<rect x="498" y="471" width="3" height="44" fill="#666666"/>
<rect x="502" y="471" width="3" height="44" fill="#666666"/>
<rect x="506" y="470" width="3" height="45" fill="#666666"/>
<rect x="510" y="469" width="3" height="46" fill="#666666"/>
<rect x="514" y="469" width="3" height="46" fill="#666666"/>
<rect x="518" y="469" width="3" height="46" fill="#666666"/>
<rect x="522" y="470" width="3" height="45" fill="#666666"/>
<rect x="526" y="471" width="3" height="44" fill="#666666"/>
<rect x="530" y="473" width="3" height="42" fill="#666666"/>
<rect x="534" y="474" width="3" height="41" fill="#666666"/>
<rect x="538" y="476" width="3" height="39" fill="#666666"/>
<rect x="542" y="479" width="3" height="36" fill="#666666"/>
<rect x="546" y="481" width="3" height="34" fill="#666666"/>
<rect x="550" y="481" width="3" height="34" fill="#666666"/>
<rect x="554" y="482" width="3" height="33" fill="#666666"/>
<rect x="558" y="481" width="3" height="34" fill="#666666"/>
<rect x="562" y="480" width="3" height="35" fill="#666666"/>
<rect x="566" y="462" width="3" height="53" fill="#666666"/>
<rect x="570" y="458" width="3" height="57" fill="#666666"/>
<rect x="574" y="456" width="3" height="59" fill="#666666"/>
<rect x="578" y="454" width="3" height="61" fill="#666666"/>
<rect x="582" y="449" width="3" height="66" fill="#666666"/>
<rect x="586" y="449" width="3" height="66" fill="#666666"/>
<rect x="590" y="452" width="3" height="63" fill="#666666"/>
<rect x="594" y="455" width="3" height="60" fill="#666666"/>
<rect x="598" y="458" width="3" height="57" fill="#666666"/>
<rect x="602" y="462" width="3" height="53" fill="#666666"/>
<rect x="606" y="464" width="3" height="51" fill="#666666"/>
<rect x="610" y="469" width="3" height="46" fill="#666666"/>
<rect x="614" y="474" width="3" height="41" fill="#666666"/>
<rect x="618" y="476" width="3" height="39" fill="#666666"/>
<rect x="622" y="486" width="3" height="29" fill="#666666"/>
<rect x="626" y="492" width="3" height="23" fill="#666666"/>
<rect x="630" y="497" width="3" height="18" fill="#666666"/>
<rect x="634" y="502" width="3" height="13" fill="#666666"/>
<rect x="638" y="502" width="3" height="13" fill="#666666"/>
<rect x="642" y="502" width="3" height="13" fill="#666666"/>
<rect x="646" y="496" width="3" height="19" fill="#666666"/>
<rect x="650" y="494" width="3" height="21" fill="#666666"/>
<rect x="654" y="493" width="3" height="22" fill="#666666"/>
<rect x="658" y="490" width="3" height="25" fill="#666666"/>
<rect x="662" y="489" width="3" height="26" fill="#666666"/>
<rect x="666" y="488" width="3" height="27" fill="#666666"/>
<rect x="670" y="483" width="3" height="32" fill="#666666"/>
<rect x="674" y="483" width="3" height="32" fill="#666666"/>
<rect x="678" y="484" width="3" height="31" fill="#666666"/>
<rect x="682" y="485" width="3" height="30" fill="#666666"/>
<rect x="686" y="486" width="3" height="29" fill="#666666"/>
<rect x="690" y="488" width="3" height="27" fill="#666666"/>
<rect x="694" y="489" width="3" height="26" fill="#666666"/>
<rect x="698" y="492" width="3" height="23" fill="#666666"/>
<rect x="702" y="494" width="3" height="21" fill="#666666"/>
<rect x="706" y="494" width="3" height="21" fill="#666666"/>
<rect x="710" y="493" width="3" height="22" fill="#666666"/>
<rect x="714" y="491" width="3" height="24" fill="#666666"/>
<rect x="718" y="493" width="3" height="22" fill="#666666"/>
<rect x="722" y="493" width="3" height="22" fill="#666666"/>
<rect x="726" y="495" width="3" height="20" fill="#666666"/>
<rect x="730" y="499" width="3" height="16" fill="#666666"/>
<rect x="734" y="501" width="3" height="14" fill="#666666"/>
<rect x="738" y="501" width="3" height="14" fill="#666666"/>
<rect x="742" y="501" width="3" height="14" fill="#666666"/>
<rect x="746" y="501" width="3" height="14" fill="#666666"/>
<rect x="750" y="502" width="3" height="13" fill="#666666"/>
<rect x="754" y="504" width="3" height="11" fill="#666666"/>
<rect x="758" y="507" width="3" height="8" fill="#666666"/>
<rect x="762" y="507" width="3" height="8" fill="#666666"/>
<rect x="766" y="511" width="3" height="4" fill="#666666"/>
<rect x="770" y="513" width="3" height="2" fill="#666666"/>
<rect x="774" y="510" width="3" height="5" fill="#666666"/>
<rect x="778" y="509" width="3" height="6" fill="#666666"/>
<rect x="782" y="512" width="3" height="3" fill="#666666"/>
<rect x="786" y="515" width="3" height="5" fill="#666666"/>
<rect x="790" y="515" width="3" height="6" fill="#666666"/>
<rect x="794" y="515" width="3" height="5" fill="#666666"/>
<rect x="798" y="515" width="3" height="9" fill="#666666"/>
<rect x="802" y="515" width="3" height="6" fill="#666666"/>
<rect x="806" y="515" width="3" height="8" fill="#666666"/>
<rect x="810" y="515" width="3" height="20" fill="#666666"/>
<rect x="814" y="515" width="3" height="29" fill="#666666"/>
<rect x="818" y="515" width="3" height="31" fill="#666666"/>
<path d="M3,508.5h1M4,508.5h1M5,508.5h1M9,507.5h1M10,506.5h1M11,506.5h1M15,503.5h1M16,503.5h1M17,503.5h1M21,501.5h1M22,500.5h1M23,500.5h1M27,498.5h1M28,498.5h1M29,498.5h1M33,497.5h1M34,496.5h1M35,496.5h1M39,496.5h1M40,496.5h1M41,496.5h1M45,496.5h1M46,497.5h1M47,497.5h1M51,499.5h1M52,499.5h1M53,499.5h1M57,500.5h1M58,501.5h1M59,501.5h1M63,501.5h1M64,501.5h1M65,500.5h1M69,499.5h1M70,498.5h1M71,498.5h1M75,497.5h1M76,497.5h1M77,497.5h1M81,496.5h1M82,497.5h1M83,497.5h1M87,501.5h1M88,502.5h1M89,503.5h1M93,506.5h1M94,507.5h1M95,508.5h1M99,512.5h1M100,513.5h1M101,514.5h1M105,517.5h1M106,517.5h1M107,518.5h1M111,520.5h1M112,520.5h1M113,521.5h1M117,522.5h1M118,523.5h1M119,523.5h1M123,527.5h1M124,527.5h1M125,528.5h1M129,529.5h1M130,530.5h1M131,530.5h1M135,531.5h1M136,531.5h1M137,531.5h1M141,529.5h1M142,528.5h1M143,528.5h1M147,526.5h1M148,526.5h1M149,525.5h1M153,523.5h1M154,522.5h1M155,522.5h1M159,520.5h1M160,520.5h1M161,519.5h1M165,518.5h1M166,518.5h1M167,518.5h1M171,518.5h1M172,518.5h1M173,518.5h1M177,517.5h1M178,517.5h1M179,517.5h1M183,517.5h1M184,517.5h1M185,517.5h1M189,516.5h1M190,516.5h1M191,516.5h1M195,516.5h1M196,516.5h1M197,516.5h1M201,517.5h1M202,517.5h1M203,517.5h1M207,517.5h1M208,517.5h1M209,517.5h1M213,516.5h1M214,516.5h1M215,516.5h1M219,515.5h1M220,515.5h1M221,515.5h1M225,515.5h1M226,515.5h1M227,515.5h1M231,515.5h1M232,515.5h1M233,515.5h1M237,515.5h1M238,515.5h1M239,515.5h1M243,514.5h1M244,514.5h1M245,513.5h1M249,512.5h1M250,511.5h1M251,511.5h1M255,510.5h1M256,510.5h1M257,509.5h1M261,508.5h1M262,507.5h1M263,507.5h1M267,506.5h1M268,506.5h1M269,506.5h1M273,505.5h1M274,504.5h1M275,504.5h1M279,503.5h1M280,503.5h1M281,502.5h1M285,500.5h1M286,499.5h1M287,499.5h1M291,498.5h1M292,498.5h1M293,497.5h1M297,495.5h1M298,494.5h1M299,494.5h1M303,493.5h1M304,493.5h1M305,493.5h1M309,493.5h1M310,493.5h1M311,493.5h1M315,493.5h1M316,493.5h1M317,493.5h1M321,494.5h1M322,495.5h1M323,495.5h1M327,495.5h1M328,495.5h1M329,495.5h1M333,494.5h1M334,495.5h1M335,495.5h1M339,495.5h1M340,495.5h1M341,496.5h1M345,499.5h1M346,499.5h1M347,500.5h1M351,502.5h1M352,502.5h1M353,502.5h1M357,504.5h1M358,504.5h1M359,505.5h1M363,506.5h1M364,506.5h1M365,506.5h1M369,507.5h1M370,508.5h1M371,508.5h1M375,509.5h1M376,509.5h1M377,509.5h1M381,509.5h1M382,510.5h1M383,510.5h1M387,511.5h1M388,511.5h1M389,511.5h1M393,511.5h1M394,512.5h1M395,512.5h1M399,512.5h1M400,512.5h1M401,512.5h1M405,513.5h1M406,514.5h1M407,514.5h1M411,515.5h1M412,515.5h1M413,515.5h1M417,516.5h1M418,517.5h1M419,517.5h1M423,516.5h1M424,516.5h1M425,516.5h1M429,514.5h1M430,513.5h1M431,513.5h1M435,511.5h1M436,510.5h1M437,509.5h1M441,507.5h1M442,506.5h1M443,506.5h1M447,503.5h1M448,503.5h1M449,502.5h1M453,500.5h1M454,499.5h1M455,499.5h1M459,497.5h1M460,497.5h1M461,496.5h1M465,495.5h1M466,494.5h1M467,494.5h1M471,493.5h1M472,493.5h1M473,493.5h1M477,492.5h1M478,491.5h1M479,491.5h1M483,487.5h1M484,486.5h1M485,485.5h1M489,481.5h1M490,481.5h1M491,480.5h1M494,476.5h1M495,475.5h1M496,474.5h1M500,472.5h1M501,472.5h1M502,471.5h1M506,471.5h1M507,471.5h1M508,471.5h1M512,470.5h1M513,470.5h1M514,470.5h1M518,470.5h1M519,470.5h1M520,470.5h1M524,469.5h1M525,469.5h1M526,470.5h1M530,471.5h1M531,471.5h1M532,471.5h1M536,471.5h1M537,471.5h1M538,472.5h1M542,474.5h1M543,475.5h1M544,475.5h1M548,476.5h1M549,476.5h1M550,477.5h1M554,479.5h1M555,479.5h1M556,479.5h1M560,480.5h1M561,480.5h1M562,481.5h1M566,478.5h1M567,477.5h1M568,476.5h1M570,472.5h1M571,471.5h1M572,470.5h1M575,466.5h1M576,465.5h1M577,464.5h1M581,460.5h1M582,459.5h1M583,458.5h1M587,454.5h1M588,454.5h1M589,453.5h1M593,452.5h1M594,452.5h1M595,452.5h1M599,453.5h1M600,453.5h1M601,454.5h1M605,456.5h1M606,457.5h1M607,457.5h1M611,460.5h1M612,461.5h1M613,462.5h1M616,466.5h1M617,467.5h1M617,468.5h1M621,472.5h1M622,473.5h1M623,474.5h1M627,478.5h1M628,479.5h1M628,480.5h1M631,484.5h1M632,485.5h1M632,486.5h1M635,490.5h1M636,491.5h1M637,492.5h1M640,496.5h1M641,497.5h1M642,498.5h1M646,500.5h1M647,500.5h1M648,500.5h1M652,498.5h1M653,497.5h1M654,497.5h1M658,494.5h1M659,494.5h1M660,493.5h1M664,491.5h1M665,491.5h1M666,490.5h1M670,488.5h1M671,488.5h1M672,488.5h1M676,486.5h1M677,486.5h1M678,485.5h1M682,484.5h1M683,484.5h1M684,484.5h1M688,484.5h1M689,484.5h1M690,485.5h1M694,486.5h1M695,486.5h1M696,486.5h1M700,487.5h1M701,488.5h1M702,489.5h1M706,491.5h1M707,491.5h1M708,491.5h1M712,492.5h1M713,492.5h1M714,492.5h1M718,493.5h1M719,493.5h1M720,493.5h1M724,493.5h1M725,493.5h1M726,493.5h1M730,493.5h1M731,493.5h1M732,494.5h1M736,496.5h1M737,496.5h1M738,497.5h1M742,498.5h1M743,498.5h1M744,498.5h1M748,500.5h1M749,500.5h1M750,501.5h1M754,502.5h1M755,502.5h1M756,502.5h1M760,503.5h1M761,503.5h1M762,503.5h1M766,505.5h1M767,505.5h1M768,505.5h1M772,507.5h1M773,507.5h1M774,508.5h1M778,510.5h1M779,510.5h1M780,510.5h1M784,511.5h1M785,511.5h1M786,512.5h1M790,513.5h1M791,513.5h1M792,514.5h1M796,516.5h1M797,517.5h1M798,518.5h1M802,520.5h1M803,520.5h1M804,520.5h1M808,523.5h1M809,524.5h1M810,524.5h1M814,527.5h1M815,528.5h1M816,529.5h1" fill="none" stroke="#ff0000" stroke-width="1"/>
<rect x="2" y="2" width="922" height="1" fill="#000"/>
<rect x="2" y="330" width="922" height="1" fill="#000"/>
<rect x="2" y="2" width="1" height="329" fill="#000"/>
<rect x="923" y="2" width="1" height="329" fill="#000"/>
<rect x="2" y="332" width="922" height="1" fill="#000"/>
<rect x="2" y="441" width="922" height="1" fill="#000"/>
<rect x="2" y="332" width="1" height="110" fill="#000"/>
<rect x="923" y="332" width="1" height="110" fill="#000"/>
<rect x="2" y="443" width="922" height="1" fill="#000"/>
<rect x="2" y="550" width="922" height="1" fill="#000"/>
<rect x="2" y="443" width="1" height="108" fill="#000"/>
<rect x="923" y="443" width="1" height="108" fill="#000"/>
<rect x="31" y="442" width="1" height="1" fill="#000"/>
<rect x="115" y="442" width="1" height="1" fill="#000"/>
<rect x="191" y="442" width="1" height="1" fill="#000"/>
<rect x="275" y="442" width="1" height="1" fill="#000"/>
<rect x="359" y="442" width="1" height="1" fill="#000"/>
<rect x="443" y="442" width="1" height="1" fill="#000"/>
<rect x="527" y="442" width="1" height="1" fill="#000"/>
<rect x="615" y="442" width="1" height="1" fill="#000"/>
<rect x="699" y="442" width="1" height="1" fill="#000"/>
<rect x="783" y="442" width="1" height="1" fill="#000"/>
<rect x="891" y="442" width="1" height="1" fill="#000"/>
<rect x="924" y="28" width="2" height="1" fill="#000"/>
<rect x="924" y="61" width="2" height="1" fill="#000"/>
<rect x="924" y="94" width="2" height="1" fill="#000"/>
<rect x="924" y="127" width="2" height="1" fill="#000"/>
<rect x="924" y="160" width="2" height="1" fill="#000"/>
<rect x="924" y="194" width="2" height="1" fill="#000"/>
<rect x="924" y="227" width="2" height="1" fill="#000"/>
<rect x="924" y="260" width="2" height="1" fill="#000"/>
<rect x="924" y="293" width="2" height="1" fill="#000"/>
<rect x="924" y="327" width="2" height="1" fill="#000"/>
<rect x="924" y="334" width="1" height="1" fill="#000"/>
<rect x="924" y="366" width="1" height="1" fill="#000"/>
<rect x="924" y="408" width="1" height="1" fill="#000"/>
<rect x="924" y="440" width="1" height="1" fill="#000"/>
<rect x="924" y="445" width="1" height="1" fill="#000"/>
<rect x="924" y="515" width="1" height="1" fill="#000"/>
<rect x="924" y="549" width="1" height="1" fill="#000"/>
<rect x="3" y="551" width="1" height="3" fill="#000"/>
<rect x="67" y="551" width="1" height="3" fill="#000"/>
<rect x="131" y="551" width="1" height="3" fill="#000"/>
<rect x="195" y="551" width="1" height="3" fill="#000"/>
<rect x="259" y="551" width="1" height="3" fill="#000"/>
<rect x="323" y="551" width="1" height="3" fill="#000"/>
<rect x="387" y="551" width="1" height="3" fill="#000"/>
<rect x="451" y="551" width="1" height="3" fill="#000"/>
<rect x="515" y="551" width="1" height="3" fill="#000"/>
<rect x="579" y="551" width="1" height="3" fill="#000"/>
<rect x="643" y="551" width="1" height="3" fill="#000"/>
<rect x="707" y="551" width="1" height="3" fill="#000"/>
<rect x="771" y="551" width="1" height="3" fill="#000"/>
<rect x="6" y="9" width="7" height="1" fill="#000"/>
<rect x="7" y="10" width="5" height="1" fill="#000"/>
<rect x="8" y="11" width="3" height="1" fill="#000"/>
<rect x="9" y="12" width="1" height="1" fill="#000"/>
</g>
<g font-family="Liberation Sans, sans-serif" font-size="10.2px" fill="#000" stroke="#000" stroke-width="0.16" text-rendering="geometricPrecision">
<rect x="17" y="5" width="158" height="11" fill="#fff" stroke="none" shape-rendering="crispEdges"/>
<text x="18" y="14" textLength="48.5" lengthAdjust="spacingAndGlyphs"  xml:space="preserve">INTC,Daily</text>
<text x="72.9" y="14" textLength="23.6" lengthAdjust="spacingAndGlyphs"  xml:space="preserve">31.96</text>
<text x="98.9" y="14" textLength="23.6" lengthAdjust="spacingAndGlyphs"  xml:space="preserve">32.64</text>
<text x="124.9" y="14" textLength="23.6" lengthAdjust="spacingAndGlyphs"  xml:space="preserve">31.73</text>
<text x="150.9" y="14" textLength="23.6" lengthAdjust="spacingAndGlyphs"  xml:space="preserve">32.15</text>
<text x="928.8" y="31" textLength="23.8" lengthAdjust="spacingAndGlyphs"  xml:space="preserve">35.20</text>
<text x="928.8" y="64" textLength="23.8" lengthAdjust="spacingAndGlyphs"  xml:space="preserve">33.90</text>
<text x="928.8" y="97" textLength="23.8" lengthAdjust="spacingAndGlyphs"  xml:space="preserve">32.55</text>
<text x="928.8" y="130" textLength="23.8" lengthAdjust="spacingAndGlyphs"  xml:space="preserve">31.25</text>
<text x="928.8" y="163" textLength="23.8" lengthAdjust="spacingAndGlyphs"  xml:space="preserve">29.90</text>
<text x="928.8" y="197" textLength="23.8" lengthAdjust="spacingAndGlyphs"  xml:space="preserve">28.55</text>
<text x="928.8" y="230" textLength="23.8" lengthAdjust="spacingAndGlyphs"  xml:space="preserve">27.20</text>
<text x="928.8" y="263" textLength="23.8" lengthAdjust="spacingAndGlyphs"  xml:space="preserve">25.90</text>
<text x="928.8" y="296" textLength="23.8" lengthAdjust="spacingAndGlyphs"  xml:space="preserve">24.55</text>
<text x="928.8" y="330" textLength="23.8" lengthAdjust="spacingAndGlyphs"  xml:space="preserve">23.20</text>
<g shape-rendering="crispEdges" stroke="none">
<rect x="925" y="15" width="31" height="11" fill="#ff0000"/>
<rect x="925" y="98" width="31" height="11" fill="#000"/>
<rect x="925" y="136" width="31" height="11" fill="#ff0000"/>
<rect x="925" y="192" width="31" height="11" fill="#ff0000"/>
<rect x="925" y="227" width="31" height="11" fill="#ff0000"/>
</g>
<text x="928.8" y="24" textLength="23.8" lengthAdjust="spacingAndGlyphs" fill="#fff" stroke="#fff"  xml:space="preserve">35.51</text>
<text x="928.8" y="107" textLength="23.8" lengthAdjust="spacingAndGlyphs" fill="#fff" stroke="#fff"  xml:space="preserve">32.15</text>
<text x="928.8" y="145" textLength="23.8" lengthAdjust="spacingAndGlyphs" fill="#fff" stroke="#fff"  xml:space="preserve">30.64</text>
<text x="928.8" y="201" textLength="23.8" lengthAdjust="spacingAndGlyphs" fill="#fff" stroke="#fff"  xml:space="preserve">28.38</text>
<text x="928.8" y="236" textLength="23.8" lengthAdjust="spacingAndGlyphs" fill="#fff" stroke="#fff"  xml:space="preserve">26.98</text>
<text x="7" y="345" textLength="69.5" lengthAdjust="spacingAndGlyphs"  xml:space="preserve">RSI(14) 37.2720</text>
<text x="7" y="456" textLength="119.5" lengthAdjust="spacingAndGlyphs"  xml:space="preserve">MACD(5,34,5) -1.353 -0.819</text>
<text x="7" y="546" textLength="248" lengthAdjust="spacingAndGlyphs"  xml:space="preserve">MT4 TeleTrade, © 2001-2014, MetaQuotes Software Corp.</text>
<text x="927.5" y="343" textLength="15" lengthAdjust="spacingAndGlyphs"  xml:space="preserve">100</text>
<text x="926.5" y="369" textLength="10" lengthAdjust="spacingAndGlyphs"  xml:space="preserve">70</text>
<text x="926.5" y="411" textLength="10" lengthAdjust="spacingAndGlyphs"  xml:space="preserve">30</text>
<text x="927" y="438" textLength="5" lengthAdjust="spacingAndGlyphs"  xml:space="preserve">0</text>
<clipPath id="c0"><rect x="920" y="430" width="40" height="10"/></clipPath>
<text x="927" y="443" textLength="5" lengthAdjust="spacingAndGlyphs" clip-path="url(#c0)" xml:space="preserve">0</text>
<text x="927" y="454" textLength="23" lengthAdjust="spacingAndGlyphs"  xml:space="preserve">3.192</text>
<text x="927" y="518" textLength="18.5" lengthAdjust="spacingAndGlyphs"  xml:space="preserve">0.00</text>
<text x="927" y="547" textLength="26" lengthAdjust="spacingAndGlyphs"  xml:space="preserve">-1.569</text>
<text x="2.5" y="563" textLength="51.8" lengthAdjust="spacingAndGlyphs"  xml:space="preserve">18 Dec 2013</text>
<text x="66.5" y="563" textLength="49.8" lengthAdjust="spacingAndGlyphs"  xml:space="preserve">15 Jan 2014</text>
<text x="130.5" y="563" textLength="46.8" lengthAdjust="spacingAndGlyphs"  xml:space="preserve">7 Feb 2014</text>
<text x="194.5" y="563" textLength="46.8" lengthAdjust="spacingAndGlyphs"  xml:space="preserve">4 Mar 2014</text>
<text x="258.5" y="563" textLength="52.3" lengthAdjust="spacingAndGlyphs"  xml:space="preserve">26 Mar 2014</text>
<text x="322.5" y="563" textLength="50.8" lengthAdjust="spacingAndGlyphs"  xml:space="preserve">17 Apr 2014</text>
<text x="386.5" y="563" textLength="54.8" lengthAdjust="spacingAndGlyphs"  xml:space="preserve">12 May 2014</text>
<text x="450.5" y="563" textLength="44.8" lengthAdjust="spacingAndGlyphs"  xml:space="preserve">4 Jun 2014</text>
<text x="514.5" y="563" textLength="49.8" lengthAdjust="spacingAndGlyphs"  xml:space="preserve">26 Jun 2014</text>
<text x="578.5" y="563" textLength="46.8" lengthAdjust="spacingAndGlyphs"  xml:space="preserve">21 Jul 2014</text>
<text x="642.5" y="563" textLength="52.8" lengthAdjust="spacingAndGlyphs"  xml:space="preserve">12 Aug 2014</text>
<text x="706.5" y="563" textLength="46.8" lengthAdjust="spacingAndGlyphs"  xml:space="preserve">4 Sep 2014</text>
<text x="770.5" y="563" textLength="51.8" lengthAdjust="spacingAndGlyphs"  xml:space="preserve">26 Sep 2014</text>
</g>
</svg></body></html>
